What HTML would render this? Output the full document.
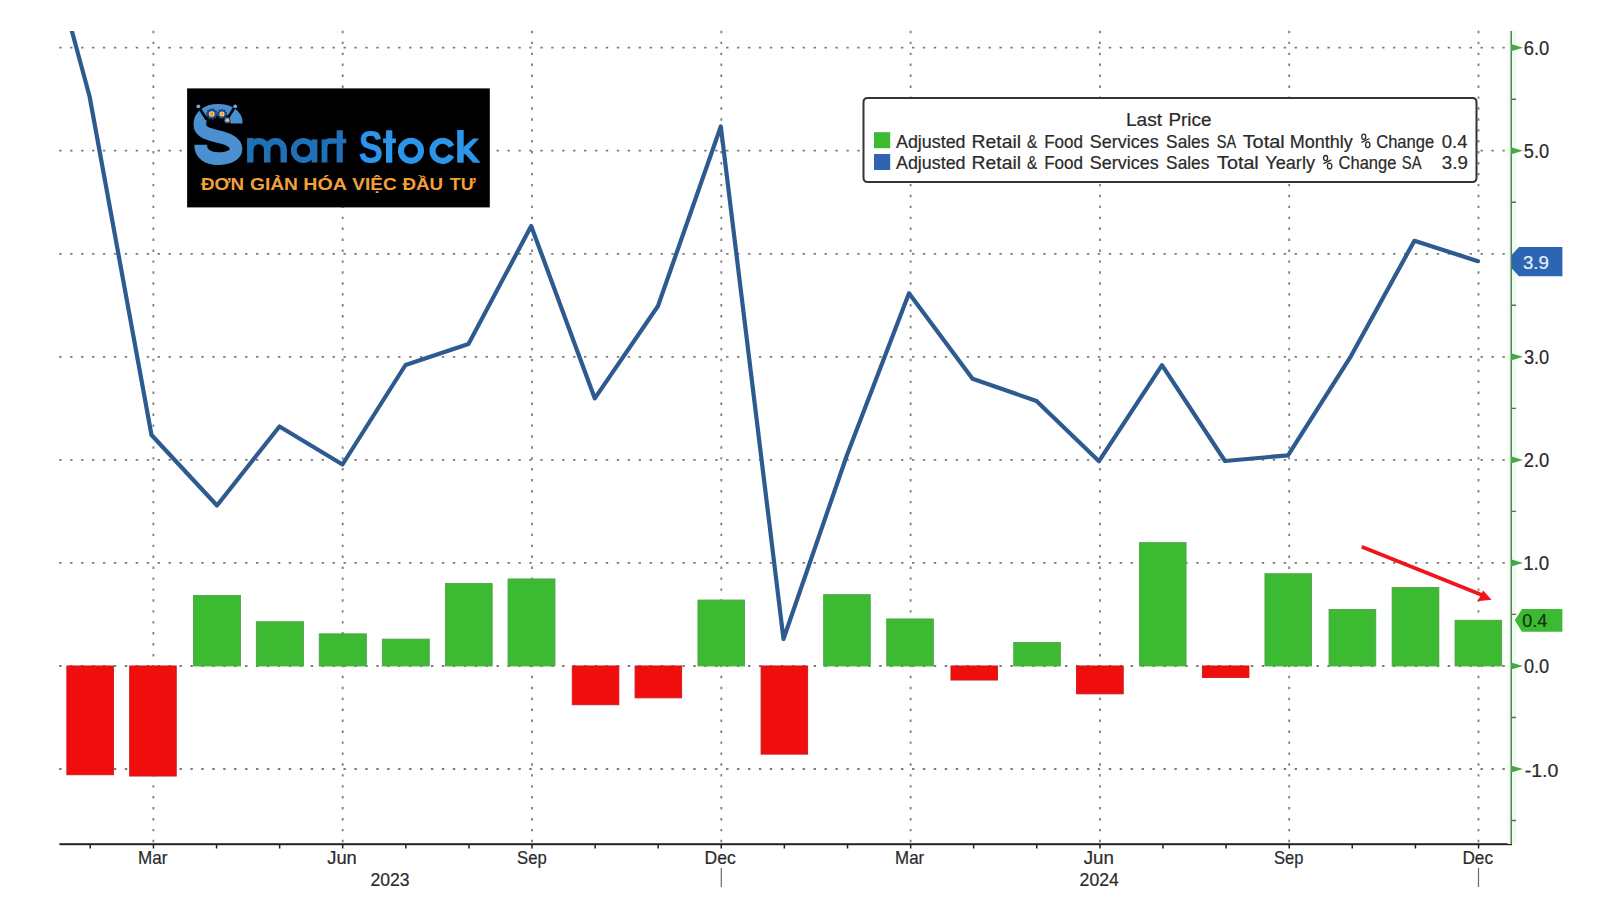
<!DOCTYPE html><html><head><meta charset="utf-8"><style>html,body{margin:0;padding:0;background:#fff;overflow:hidden}svg{display:block}text{font-family:"Liberation Sans",sans-serif;stroke-width:0.2px}</style></head><body>
<svg width="1600" height="909" viewBox="0 0 1600 909">
<rect width="1600" height="909" fill="#fff"/>
<path fill="#7c7c7c" d="M59.2 46.8h2.4v1.8h-2.4zM70.1 46.8h2.4v1.8h-2.4zM81.1 46.8h2.4v1.8h-2.4zM92.0 46.8h2.4v1.8h-2.4zM102.9 46.8h2.4v1.8h-2.4zM113.9 46.8h2.4v1.8h-2.4zM124.8 46.8h2.4v1.8h-2.4zM135.7 46.8h2.4v1.8h-2.4zM146.7 46.8h2.4v1.8h-2.4zM157.6 46.8h2.4v1.8h-2.4zM168.5 46.8h2.4v1.8h-2.4zM179.5 46.8h2.4v1.8h-2.4zM190.4 46.8h2.4v1.8h-2.4zM201.3 46.8h2.4v1.8h-2.4zM212.3 46.8h2.4v1.8h-2.4zM223.2 46.8h2.4v1.8h-2.4zM234.1 46.8h2.4v1.8h-2.4zM245.1 46.8h2.4v1.8h-2.4zM256.0 46.8h2.4v1.8h-2.4zM266.9 46.8h2.4v1.8h-2.4zM277.9 46.8h2.4v1.8h-2.4zM288.8 46.8h2.4v1.8h-2.4zM299.7 46.8h2.4v1.8h-2.4zM310.7 46.8h2.4v1.8h-2.4zM321.6 46.8h2.4v1.8h-2.4zM332.5 46.8h2.4v1.8h-2.4zM343.5 46.8h2.4v1.8h-2.4zM354.4 46.8h2.4v1.8h-2.4zM365.3 46.8h2.4v1.8h-2.4zM376.3 46.8h2.4v1.8h-2.4zM387.2 46.8h2.4v1.8h-2.4zM398.1 46.8h2.4v1.8h-2.4zM409.1 46.8h2.4v1.8h-2.4zM420.0 46.8h2.4v1.8h-2.4zM430.9 46.8h2.4v1.8h-2.4zM441.9 46.8h2.4v1.8h-2.4zM452.8 46.8h2.4v1.8h-2.4zM463.7 46.8h2.4v1.8h-2.4zM474.7 46.8h2.4v1.8h-2.4zM485.6 46.8h2.4v1.8h-2.4zM496.5 46.8h2.4v1.8h-2.4zM507.5 46.8h2.4v1.8h-2.4zM518.4 46.8h2.4v1.8h-2.4zM529.3 46.8h2.4v1.8h-2.4zM540.3 46.8h2.4v1.8h-2.4zM551.2 46.8h2.4v1.8h-2.4zM562.1 46.8h2.4v1.8h-2.4zM573.1 46.8h2.4v1.8h-2.4zM584.0 46.8h2.4v1.8h-2.4zM594.9 46.8h2.4v1.8h-2.4zM605.8 46.8h2.4v1.8h-2.4zM616.8 46.8h2.4v1.8h-2.4zM627.7 46.8h2.4v1.8h-2.4zM638.6 46.8h2.4v1.8h-2.4zM649.6 46.8h2.4v1.8h-2.4zM660.5 46.8h2.4v1.8h-2.4zM671.4 46.8h2.4v1.8h-2.4zM682.4 46.8h2.4v1.8h-2.4zM693.3 46.8h2.4v1.8h-2.4zM704.2 46.8h2.4v1.8h-2.4zM715.2 46.8h2.4v1.8h-2.4zM726.1 46.8h2.4v1.8h-2.4zM737.0 46.8h2.4v1.8h-2.4zM748.0 46.8h2.4v1.8h-2.4zM758.9 46.8h2.4v1.8h-2.4zM769.8 46.8h2.4v1.8h-2.4zM780.8 46.8h2.4v1.8h-2.4zM791.7 46.8h2.4v1.8h-2.4zM802.6 46.8h2.4v1.8h-2.4zM813.6 46.8h2.4v1.8h-2.4zM824.5 46.8h2.4v1.8h-2.4zM835.4 46.8h2.4v1.8h-2.4zM846.4 46.8h2.4v1.8h-2.4zM857.3 46.8h2.4v1.8h-2.4zM868.2 46.8h2.4v1.8h-2.4zM879.2 46.8h2.4v1.8h-2.4zM890.1 46.8h2.4v1.8h-2.4zM901.0 46.8h2.4v1.8h-2.4zM912.0 46.8h2.4v1.8h-2.4zM922.9 46.8h2.4v1.8h-2.4zM933.8 46.8h2.4v1.8h-2.4zM944.8 46.8h2.4v1.8h-2.4zM955.7 46.8h2.4v1.8h-2.4zM966.6 46.8h2.4v1.8h-2.4zM977.6 46.8h2.4v1.8h-2.4zM988.5 46.8h2.4v1.8h-2.4zM999.4 46.8h2.4v1.8h-2.4zM1010.4 46.8h2.4v1.8h-2.4zM1021.3 46.8h2.4v1.8h-2.4zM1032.2 46.8h2.4v1.8h-2.4zM1043.2 46.8h2.4v1.8h-2.4zM1054.1 46.8h2.4v1.8h-2.4zM1065.0 46.8h2.4v1.8h-2.4zM1076.0 46.8h2.4v1.8h-2.4zM1086.9 46.8h2.4v1.8h-2.4zM1097.8 46.8h2.4v1.8h-2.4zM1108.8 46.8h2.4v1.8h-2.4zM1119.7 46.8h2.4v1.8h-2.4zM1130.6 46.8h2.4v1.8h-2.4zM1141.6 46.8h2.4v1.8h-2.4zM1152.5 46.8h2.4v1.8h-2.4zM1163.4 46.8h2.4v1.8h-2.4zM1174.4 46.8h2.4v1.8h-2.4zM1185.3 46.8h2.4v1.8h-2.4zM1196.2 46.8h2.4v1.8h-2.4zM1207.2 46.8h2.4v1.8h-2.4zM1218.1 46.8h2.4v1.8h-2.4zM1229.0 46.8h2.4v1.8h-2.4zM1240.0 46.8h2.4v1.8h-2.4zM1250.9 46.8h2.4v1.8h-2.4zM1261.8 46.8h2.4v1.8h-2.4zM1272.8 46.8h2.4v1.8h-2.4zM1283.7 46.8h2.4v1.8h-2.4zM1294.6 46.8h2.4v1.8h-2.4zM1305.6 46.8h2.4v1.8h-2.4zM1316.5 46.8h2.4v1.8h-2.4zM1327.4 46.8h2.4v1.8h-2.4zM1338.4 46.8h2.4v1.8h-2.4zM1349.3 46.8h2.4v1.8h-2.4zM1360.2 46.8h2.4v1.8h-2.4zM1371.2 46.8h2.4v1.8h-2.4zM1382.1 46.8h2.4v1.8h-2.4zM1393.0 46.8h2.4v1.8h-2.4zM1404.0 46.8h2.4v1.8h-2.4zM1414.9 46.8h2.4v1.8h-2.4zM1425.8 46.8h2.4v1.8h-2.4zM1436.8 46.8h2.4v1.8h-2.4zM1447.7 46.8h2.4v1.8h-2.4zM1458.6 46.8h2.4v1.8h-2.4zM1469.6 46.8h2.4v1.8h-2.4zM1480.5 46.8h2.4v1.8h-2.4zM1491.4 46.8h2.4v1.8h-2.4zM1502.4 46.8h2.4v1.8h-2.4zM59.2 149.8h2.4v1.8h-2.4zM70.1 149.8h2.4v1.8h-2.4zM81.1 149.8h2.4v1.8h-2.4zM92.0 149.8h2.4v1.8h-2.4zM102.9 149.8h2.4v1.8h-2.4zM113.9 149.8h2.4v1.8h-2.4zM124.8 149.8h2.4v1.8h-2.4zM135.7 149.8h2.4v1.8h-2.4zM146.7 149.8h2.4v1.8h-2.4zM157.6 149.8h2.4v1.8h-2.4zM168.5 149.8h2.4v1.8h-2.4zM179.5 149.8h2.4v1.8h-2.4zM190.4 149.8h2.4v1.8h-2.4zM201.3 149.8h2.4v1.8h-2.4zM212.3 149.8h2.4v1.8h-2.4zM223.2 149.8h2.4v1.8h-2.4zM234.1 149.8h2.4v1.8h-2.4zM245.1 149.8h2.4v1.8h-2.4zM256.0 149.8h2.4v1.8h-2.4zM266.9 149.8h2.4v1.8h-2.4zM277.9 149.8h2.4v1.8h-2.4zM288.8 149.8h2.4v1.8h-2.4zM299.7 149.8h2.4v1.8h-2.4zM310.7 149.8h2.4v1.8h-2.4zM321.6 149.8h2.4v1.8h-2.4zM332.5 149.8h2.4v1.8h-2.4zM343.5 149.8h2.4v1.8h-2.4zM354.4 149.8h2.4v1.8h-2.4zM365.3 149.8h2.4v1.8h-2.4zM376.3 149.8h2.4v1.8h-2.4zM387.2 149.8h2.4v1.8h-2.4zM398.1 149.8h2.4v1.8h-2.4zM409.1 149.8h2.4v1.8h-2.4zM420.0 149.8h2.4v1.8h-2.4zM430.9 149.8h2.4v1.8h-2.4zM441.9 149.8h2.4v1.8h-2.4zM452.8 149.8h2.4v1.8h-2.4zM463.7 149.8h2.4v1.8h-2.4zM474.7 149.8h2.4v1.8h-2.4zM485.6 149.8h2.4v1.8h-2.4zM496.5 149.8h2.4v1.8h-2.4zM507.5 149.8h2.4v1.8h-2.4zM518.4 149.8h2.4v1.8h-2.4zM529.3 149.8h2.4v1.8h-2.4zM540.3 149.8h2.4v1.8h-2.4zM551.2 149.8h2.4v1.8h-2.4zM562.1 149.8h2.4v1.8h-2.4zM573.1 149.8h2.4v1.8h-2.4zM584.0 149.8h2.4v1.8h-2.4zM594.9 149.8h2.4v1.8h-2.4zM605.8 149.8h2.4v1.8h-2.4zM616.8 149.8h2.4v1.8h-2.4zM627.7 149.8h2.4v1.8h-2.4zM638.6 149.8h2.4v1.8h-2.4zM649.6 149.8h2.4v1.8h-2.4zM660.5 149.8h2.4v1.8h-2.4zM671.4 149.8h2.4v1.8h-2.4zM682.4 149.8h2.4v1.8h-2.4zM693.3 149.8h2.4v1.8h-2.4zM704.2 149.8h2.4v1.8h-2.4zM715.2 149.8h2.4v1.8h-2.4zM726.1 149.8h2.4v1.8h-2.4zM737.0 149.8h2.4v1.8h-2.4zM748.0 149.8h2.4v1.8h-2.4zM758.9 149.8h2.4v1.8h-2.4zM769.8 149.8h2.4v1.8h-2.4zM780.8 149.8h2.4v1.8h-2.4zM791.7 149.8h2.4v1.8h-2.4zM802.6 149.8h2.4v1.8h-2.4zM813.6 149.8h2.4v1.8h-2.4zM824.5 149.8h2.4v1.8h-2.4zM835.4 149.8h2.4v1.8h-2.4zM846.4 149.8h2.4v1.8h-2.4zM857.3 149.8h2.4v1.8h-2.4zM868.2 149.8h2.4v1.8h-2.4zM879.2 149.8h2.4v1.8h-2.4zM890.1 149.8h2.4v1.8h-2.4zM901.0 149.8h2.4v1.8h-2.4zM912.0 149.8h2.4v1.8h-2.4zM922.9 149.8h2.4v1.8h-2.4zM933.8 149.8h2.4v1.8h-2.4zM944.8 149.8h2.4v1.8h-2.4zM955.7 149.8h2.4v1.8h-2.4zM966.6 149.8h2.4v1.8h-2.4zM977.6 149.8h2.4v1.8h-2.4zM988.5 149.8h2.4v1.8h-2.4zM999.4 149.8h2.4v1.8h-2.4zM1010.4 149.8h2.4v1.8h-2.4zM1021.3 149.8h2.4v1.8h-2.4zM1032.2 149.8h2.4v1.8h-2.4zM1043.2 149.8h2.4v1.8h-2.4zM1054.1 149.8h2.4v1.8h-2.4zM1065.0 149.8h2.4v1.8h-2.4zM1076.0 149.8h2.4v1.8h-2.4zM1086.9 149.8h2.4v1.8h-2.4zM1097.8 149.8h2.4v1.8h-2.4zM1108.8 149.8h2.4v1.8h-2.4zM1119.7 149.8h2.4v1.8h-2.4zM1130.6 149.8h2.4v1.8h-2.4zM1141.6 149.8h2.4v1.8h-2.4zM1152.5 149.8h2.4v1.8h-2.4zM1163.4 149.8h2.4v1.8h-2.4zM1174.4 149.8h2.4v1.8h-2.4zM1185.3 149.8h2.4v1.8h-2.4zM1196.2 149.8h2.4v1.8h-2.4zM1207.2 149.8h2.4v1.8h-2.4zM1218.1 149.8h2.4v1.8h-2.4zM1229.0 149.8h2.4v1.8h-2.4zM1240.0 149.8h2.4v1.8h-2.4zM1250.9 149.8h2.4v1.8h-2.4zM1261.8 149.8h2.4v1.8h-2.4zM1272.8 149.8h2.4v1.8h-2.4zM1283.7 149.8h2.4v1.8h-2.4zM1294.6 149.8h2.4v1.8h-2.4zM1305.6 149.8h2.4v1.8h-2.4zM1316.5 149.8h2.4v1.8h-2.4zM1327.4 149.8h2.4v1.8h-2.4zM1338.4 149.8h2.4v1.8h-2.4zM1349.3 149.8h2.4v1.8h-2.4zM1360.2 149.8h2.4v1.8h-2.4zM1371.2 149.8h2.4v1.8h-2.4zM1382.1 149.8h2.4v1.8h-2.4zM1393.0 149.8h2.4v1.8h-2.4zM1404.0 149.8h2.4v1.8h-2.4zM1414.9 149.8h2.4v1.8h-2.4zM1425.8 149.8h2.4v1.8h-2.4zM1436.8 149.8h2.4v1.8h-2.4zM1447.7 149.8h2.4v1.8h-2.4zM1458.6 149.8h2.4v1.8h-2.4zM1469.6 149.8h2.4v1.8h-2.4zM1480.5 149.8h2.4v1.8h-2.4zM1491.4 149.8h2.4v1.8h-2.4zM1502.4 149.8h2.4v1.8h-2.4zM59.2 252.9h2.4v1.8h-2.4zM70.1 252.9h2.4v1.8h-2.4zM81.1 252.9h2.4v1.8h-2.4zM92.0 252.9h2.4v1.8h-2.4zM102.9 252.9h2.4v1.8h-2.4zM113.9 252.9h2.4v1.8h-2.4zM124.8 252.9h2.4v1.8h-2.4zM135.7 252.9h2.4v1.8h-2.4zM146.7 252.9h2.4v1.8h-2.4zM157.6 252.9h2.4v1.8h-2.4zM168.5 252.9h2.4v1.8h-2.4zM179.5 252.9h2.4v1.8h-2.4zM190.4 252.9h2.4v1.8h-2.4zM201.3 252.9h2.4v1.8h-2.4zM212.3 252.9h2.4v1.8h-2.4zM223.2 252.9h2.4v1.8h-2.4zM234.1 252.9h2.4v1.8h-2.4zM245.1 252.9h2.4v1.8h-2.4zM256.0 252.9h2.4v1.8h-2.4zM266.9 252.9h2.4v1.8h-2.4zM277.9 252.9h2.4v1.8h-2.4zM288.8 252.9h2.4v1.8h-2.4zM299.7 252.9h2.4v1.8h-2.4zM310.7 252.9h2.4v1.8h-2.4zM321.6 252.9h2.4v1.8h-2.4zM332.5 252.9h2.4v1.8h-2.4zM343.5 252.9h2.4v1.8h-2.4zM354.4 252.9h2.4v1.8h-2.4zM365.3 252.9h2.4v1.8h-2.4zM376.3 252.9h2.4v1.8h-2.4zM387.2 252.9h2.4v1.8h-2.4zM398.1 252.9h2.4v1.8h-2.4zM409.1 252.9h2.4v1.8h-2.4zM420.0 252.9h2.4v1.8h-2.4zM430.9 252.9h2.4v1.8h-2.4zM441.9 252.9h2.4v1.8h-2.4zM452.8 252.9h2.4v1.8h-2.4zM463.7 252.9h2.4v1.8h-2.4zM474.7 252.9h2.4v1.8h-2.4zM485.6 252.9h2.4v1.8h-2.4zM496.5 252.9h2.4v1.8h-2.4zM507.5 252.9h2.4v1.8h-2.4zM518.4 252.9h2.4v1.8h-2.4zM529.3 252.9h2.4v1.8h-2.4zM540.3 252.9h2.4v1.8h-2.4zM551.2 252.9h2.4v1.8h-2.4zM562.1 252.9h2.4v1.8h-2.4zM573.1 252.9h2.4v1.8h-2.4zM584.0 252.9h2.4v1.8h-2.4zM594.9 252.9h2.4v1.8h-2.4zM605.8 252.9h2.4v1.8h-2.4zM616.8 252.9h2.4v1.8h-2.4zM627.7 252.9h2.4v1.8h-2.4zM638.6 252.9h2.4v1.8h-2.4zM649.6 252.9h2.4v1.8h-2.4zM660.5 252.9h2.4v1.8h-2.4zM671.4 252.9h2.4v1.8h-2.4zM682.4 252.9h2.4v1.8h-2.4zM693.3 252.9h2.4v1.8h-2.4zM704.2 252.9h2.4v1.8h-2.4zM715.2 252.9h2.4v1.8h-2.4zM726.1 252.9h2.4v1.8h-2.4zM737.0 252.9h2.4v1.8h-2.4zM748.0 252.9h2.4v1.8h-2.4zM758.9 252.9h2.4v1.8h-2.4zM769.8 252.9h2.4v1.8h-2.4zM780.8 252.9h2.4v1.8h-2.4zM791.7 252.9h2.4v1.8h-2.4zM802.6 252.9h2.4v1.8h-2.4zM813.6 252.9h2.4v1.8h-2.4zM824.5 252.9h2.4v1.8h-2.4zM835.4 252.9h2.4v1.8h-2.4zM846.4 252.9h2.4v1.8h-2.4zM857.3 252.9h2.4v1.8h-2.4zM868.2 252.9h2.4v1.8h-2.4zM879.2 252.9h2.4v1.8h-2.4zM890.1 252.9h2.4v1.8h-2.4zM901.0 252.9h2.4v1.8h-2.4zM912.0 252.9h2.4v1.8h-2.4zM922.9 252.9h2.4v1.8h-2.4zM933.8 252.9h2.4v1.8h-2.4zM944.8 252.9h2.4v1.8h-2.4zM955.7 252.9h2.4v1.8h-2.4zM966.6 252.9h2.4v1.8h-2.4zM977.6 252.9h2.4v1.8h-2.4zM988.5 252.9h2.4v1.8h-2.4zM999.4 252.9h2.4v1.8h-2.4zM1010.4 252.9h2.4v1.8h-2.4zM1021.3 252.9h2.4v1.8h-2.4zM1032.2 252.9h2.4v1.8h-2.4zM1043.2 252.9h2.4v1.8h-2.4zM1054.1 252.9h2.4v1.8h-2.4zM1065.0 252.9h2.4v1.8h-2.4zM1076.0 252.9h2.4v1.8h-2.4zM1086.9 252.9h2.4v1.8h-2.4zM1097.8 252.9h2.4v1.8h-2.4zM1108.8 252.9h2.4v1.8h-2.4zM1119.7 252.9h2.4v1.8h-2.4zM1130.6 252.9h2.4v1.8h-2.4zM1141.6 252.9h2.4v1.8h-2.4zM1152.5 252.9h2.4v1.8h-2.4zM1163.4 252.9h2.4v1.8h-2.4zM1174.4 252.9h2.4v1.8h-2.4zM1185.3 252.9h2.4v1.8h-2.4zM1196.2 252.9h2.4v1.8h-2.4zM1207.2 252.9h2.4v1.8h-2.4zM1218.1 252.9h2.4v1.8h-2.4zM1229.0 252.9h2.4v1.8h-2.4zM1240.0 252.9h2.4v1.8h-2.4zM1250.9 252.9h2.4v1.8h-2.4zM1261.8 252.9h2.4v1.8h-2.4zM1272.8 252.9h2.4v1.8h-2.4zM1283.7 252.9h2.4v1.8h-2.4zM1294.6 252.9h2.4v1.8h-2.4zM1305.6 252.9h2.4v1.8h-2.4zM1316.5 252.9h2.4v1.8h-2.4zM1327.4 252.9h2.4v1.8h-2.4zM1338.4 252.9h2.4v1.8h-2.4zM1349.3 252.9h2.4v1.8h-2.4zM1360.2 252.9h2.4v1.8h-2.4zM1371.2 252.9h2.4v1.8h-2.4zM1382.1 252.9h2.4v1.8h-2.4zM1393.0 252.9h2.4v1.8h-2.4zM1404.0 252.9h2.4v1.8h-2.4zM1414.9 252.9h2.4v1.8h-2.4zM1425.8 252.9h2.4v1.8h-2.4zM1436.8 252.9h2.4v1.8h-2.4zM1447.7 252.9h2.4v1.8h-2.4zM1458.6 252.9h2.4v1.8h-2.4zM1469.6 252.9h2.4v1.8h-2.4zM1480.5 252.9h2.4v1.8h-2.4zM1491.4 252.9h2.4v1.8h-2.4zM1502.4 252.9h2.4v1.8h-2.4zM59.2 355.9h2.4v1.8h-2.4zM70.1 355.9h2.4v1.8h-2.4zM81.1 355.9h2.4v1.8h-2.4zM92.0 355.9h2.4v1.8h-2.4zM102.9 355.9h2.4v1.8h-2.4zM113.9 355.9h2.4v1.8h-2.4zM124.8 355.9h2.4v1.8h-2.4zM135.7 355.9h2.4v1.8h-2.4zM146.7 355.9h2.4v1.8h-2.4zM157.6 355.9h2.4v1.8h-2.4zM168.5 355.9h2.4v1.8h-2.4zM179.5 355.9h2.4v1.8h-2.4zM190.4 355.9h2.4v1.8h-2.4zM201.3 355.9h2.4v1.8h-2.4zM212.3 355.9h2.4v1.8h-2.4zM223.2 355.9h2.4v1.8h-2.4zM234.1 355.9h2.4v1.8h-2.4zM245.1 355.9h2.4v1.8h-2.4zM256.0 355.9h2.4v1.8h-2.4zM266.9 355.9h2.4v1.8h-2.4zM277.9 355.9h2.4v1.8h-2.4zM288.8 355.9h2.4v1.8h-2.4zM299.7 355.9h2.4v1.8h-2.4zM310.7 355.9h2.4v1.8h-2.4zM321.6 355.9h2.4v1.8h-2.4zM332.5 355.9h2.4v1.8h-2.4zM343.5 355.9h2.4v1.8h-2.4zM354.4 355.9h2.4v1.8h-2.4zM365.3 355.9h2.4v1.8h-2.4zM376.3 355.9h2.4v1.8h-2.4zM387.2 355.9h2.4v1.8h-2.4zM398.1 355.9h2.4v1.8h-2.4zM409.1 355.9h2.4v1.8h-2.4zM420.0 355.9h2.4v1.8h-2.4zM430.9 355.9h2.4v1.8h-2.4zM441.9 355.9h2.4v1.8h-2.4zM452.8 355.9h2.4v1.8h-2.4zM463.7 355.9h2.4v1.8h-2.4zM474.7 355.9h2.4v1.8h-2.4zM485.6 355.9h2.4v1.8h-2.4zM496.5 355.9h2.4v1.8h-2.4zM507.5 355.9h2.4v1.8h-2.4zM518.4 355.9h2.4v1.8h-2.4zM529.3 355.9h2.4v1.8h-2.4zM540.3 355.9h2.4v1.8h-2.4zM551.2 355.9h2.4v1.8h-2.4zM562.1 355.9h2.4v1.8h-2.4zM573.1 355.9h2.4v1.8h-2.4zM584.0 355.9h2.4v1.8h-2.4zM594.9 355.9h2.4v1.8h-2.4zM605.8 355.9h2.4v1.8h-2.4zM616.8 355.9h2.4v1.8h-2.4zM627.7 355.9h2.4v1.8h-2.4zM638.6 355.9h2.4v1.8h-2.4zM649.6 355.9h2.4v1.8h-2.4zM660.5 355.9h2.4v1.8h-2.4zM671.4 355.9h2.4v1.8h-2.4zM682.4 355.9h2.4v1.8h-2.4zM693.3 355.9h2.4v1.8h-2.4zM704.2 355.9h2.4v1.8h-2.4zM715.2 355.9h2.4v1.8h-2.4zM726.1 355.9h2.4v1.8h-2.4zM737.0 355.9h2.4v1.8h-2.4zM748.0 355.9h2.4v1.8h-2.4zM758.9 355.9h2.4v1.8h-2.4zM769.8 355.9h2.4v1.8h-2.4zM780.8 355.9h2.4v1.8h-2.4zM791.7 355.9h2.4v1.8h-2.4zM802.6 355.9h2.4v1.8h-2.4zM813.6 355.9h2.4v1.8h-2.4zM824.5 355.9h2.4v1.8h-2.4zM835.4 355.9h2.4v1.8h-2.4zM846.4 355.9h2.4v1.8h-2.4zM857.3 355.9h2.4v1.8h-2.4zM868.2 355.9h2.4v1.8h-2.4zM879.2 355.9h2.4v1.8h-2.4zM890.1 355.9h2.4v1.8h-2.4zM901.0 355.9h2.4v1.8h-2.4zM912.0 355.9h2.4v1.8h-2.4zM922.9 355.9h2.4v1.8h-2.4zM933.8 355.9h2.4v1.8h-2.4zM944.8 355.9h2.4v1.8h-2.4zM955.7 355.9h2.4v1.8h-2.4zM966.6 355.9h2.4v1.8h-2.4zM977.6 355.9h2.4v1.8h-2.4zM988.5 355.9h2.4v1.8h-2.4zM999.4 355.9h2.4v1.8h-2.4zM1010.4 355.9h2.4v1.8h-2.4zM1021.3 355.9h2.4v1.8h-2.4zM1032.2 355.9h2.4v1.8h-2.4zM1043.2 355.9h2.4v1.8h-2.4zM1054.1 355.9h2.4v1.8h-2.4zM1065.0 355.9h2.4v1.8h-2.4zM1076.0 355.9h2.4v1.8h-2.4zM1086.9 355.9h2.4v1.8h-2.4zM1097.8 355.9h2.4v1.8h-2.4zM1108.8 355.9h2.4v1.8h-2.4zM1119.7 355.9h2.4v1.8h-2.4zM1130.6 355.9h2.4v1.8h-2.4zM1141.6 355.9h2.4v1.8h-2.4zM1152.5 355.9h2.4v1.8h-2.4zM1163.4 355.9h2.4v1.8h-2.4zM1174.4 355.9h2.4v1.8h-2.4zM1185.3 355.9h2.4v1.8h-2.4zM1196.2 355.9h2.4v1.8h-2.4zM1207.2 355.9h2.4v1.8h-2.4zM1218.1 355.9h2.4v1.8h-2.4zM1229.0 355.9h2.4v1.8h-2.4zM1240.0 355.9h2.4v1.8h-2.4zM1250.9 355.9h2.4v1.8h-2.4zM1261.8 355.9h2.4v1.8h-2.4zM1272.8 355.9h2.4v1.8h-2.4zM1283.7 355.9h2.4v1.8h-2.4zM1294.6 355.9h2.4v1.8h-2.4zM1305.6 355.9h2.4v1.8h-2.4zM1316.5 355.9h2.4v1.8h-2.4zM1327.4 355.9h2.4v1.8h-2.4zM1338.4 355.9h2.4v1.8h-2.4zM1349.3 355.9h2.4v1.8h-2.4zM1360.2 355.9h2.4v1.8h-2.4zM1371.2 355.9h2.4v1.8h-2.4zM1382.1 355.9h2.4v1.8h-2.4zM1393.0 355.9h2.4v1.8h-2.4zM1404.0 355.9h2.4v1.8h-2.4zM1414.9 355.9h2.4v1.8h-2.4zM1425.8 355.9h2.4v1.8h-2.4zM1436.8 355.9h2.4v1.8h-2.4zM1447.7 355.9h2.4v1.8h-2.4zM1458.6 355.9h2.4v1.8h-2.4zM1469.6 355.9h2.4v1.8h-2.4zM1480.5 355.9h2.4v1.8h-2.4zM1491.4 355.9h2.4v1.8h-2.4zM1502.4 355.9h2.4v1.8h-2.4zM59.2 459.0h2.4v1.8h-2.4zM70.1 459.0h2.4v1.8h-2.4zM81.1 459.0h2.4v1.8h-2.4zM92.0 459.0h2.4v1.8h-2.4zM102.9 459.0h2.4v1.8h-2.4zM113.9 459.0h2.4v1.8h-2.4zM124.8 459.0h2.4v1.8h-2.4zM135.7 459.0h2.4v1.8h-2.4zM146.7 459.0h2.4v1.8h-2.4zM157.6 459.0h2.4v1.8h-2.4zM168.5 459.0h2.4v1.8h-2.4zM179.5 459.0h2.4v1.8h-2.4zM190.4 459.0h2.4v1.8h-2.4zM201.3 459.0h2.4v1.8h-2.4zM212.3 459.0h2.4v1.8h-2.4zM223.2 459.0h2.4v1.8h-2.4zM234.1 459.0h2.4v1.8h-2.4zM245.1 459.0h2.4v1.8h-2.4zM256.0 459.0h2.4v1.8h-2.4zM266.9 459.0h2.4v1.8h-2.4zM277.9 459.0h2.4v1.8h-2.4zM288.8 459.0h2.4v1.8h-2.4zM299.7 459.0h2.4v1.8h-2.4zM310.7 459.0h2.4v1.8h-2.4zM321.6 459.0h2.4v1.8h-2.4zM332.5 459.0h2.4v1.8h-2.4zM343.5 459.0h2.4v1.8h-2.4zM354.4 459.0h2.4v1.8h-2.4zM365.3 459.0h2.4v1.8h-2.4zM376.3 459.0h2.4v1.8h-2.4zM387.2 459.0h2.4v1.8h-2.4zM398.1 459.0h2.4v1.8h-2.4zM409.1 459.0h2.4v1.8h-2.4zM420.0 459.0h2.4v1.8h-2.4zM430.9 459.0h2.4v1.8h-2.4zM441.9 459.0h2.4v1.8h-2.4zM452.8 459.0h2.4v1.8h-2.4zM463.7 459.0h2.4v1.8h-2.4zM474.7 459.0h2.4v1.8h-2.4zM485.6 459.0h2.4v1.8h-2.4zM496.5 459.0h2.4v1.8h-2.4zM507.5 459.0h2.4v1.8h-2.4zM518.4 459.0h2.4v1.8h-2.4zM529.3 459.0h2.4v1.8h-2.4zM540.3 459.0h2.4v1.8h-2.4zM551.2 459.0h2.4v1.8h-2.4zM562.1 459.0h2.4v1.8h-2.4zM573.1 459.0h2.4v1.8h-2.4zM584.0 459.0h2.4v1.8h-2.4zM594.9 459.0h2.4v1.8h-2.4zM605.8 459.0h2.4v1.8h-2.4zM616.8 459.0h2.4v1.8h-2.4zM627.7 459.0h2.4v1.8h-2.4zM638.6 459.0h2.4v1.8h-2.4zM649.6 459.0h2.4v1.8h-2.4zM660.5 459.0h2.4v1.8h-2.4zM671.4 459.0h2.4v1.8h-2.4zM682.4 459.0h2.4v1.8h-2.4zM693.3 459.0h2.4v1.8h-2.4zM704.2 459.0h2.4v1.8h-2.4zM715.2 459.0h2.4v1.8h-2.4zM726.1 459.0h2.4v1.8h-2.4zM737.0 459.0h2.4v1.8h-2.4zM748.0 459.0h2.4v1.8h-2.4zM758.9 459.0h2.4v1.8h-2.4zM769.8 459.0h2.4v1.8h-2.4zM780.8 459.0h2.4v1.8h-2.4zM791.7 459.0h2.4v1.8h-2.4zM802.6 459.0h2.4v1.8h-2.4zM813.6 459.0h2.4v1.8h-2.4zM824.5 459.0h2.4v1.8h-2.4zM835.4 459.0h2.4v1.8h-2.4zM846.4 459.0h2.4v1.8h-2.4zM857.3 459.0h2.4v1.8h-2.4zM868.2 459.0h2.4v1.8h-2.4zM879.2 459.0h2.4v1.8h-2.4zM890.1 459.0h2.4v1.8h-2.4zM901.0 459.0h2.4v1.8h-2.4zM912.0 459.0h2.4v1.8h-2.4zM922.9 459.0h2.4v1.8h-2.4zM933.8 459.0h2.4v1.8h-2.4zM944.8 459.0h2.4v1.8h-2.4zM955.7 459.0h2.4v1.8h-2.4zM966.6 459.0h2.4v1.8h-2.4zM977.6 459.0h2.4v1.8h-2.4zM988.5 459.0h2.4v1.8h-2.4zM999.4 459.0h2.4v1.8h-2.4zM1010.4 459.0h2.4v1.8h-2.4zM1021.3 459.0h2.4v1.8h-2.4zM1032.2 459.0h2.4v1.8h-2.4zM1043.2 459.0h2.4v1.8h-2.4zM1054.1 459.0h2.4v1.8h-2.4zM1065.0 459.0h2.4v1.8h-2.4zM1076.0 459.0h2.4v1.8h-2.4zM1086.9 459.0h2.4v1.8h-2.4zM1097.8 459.0h2.4v1.8h-2.4zM1108.8 459.0h2.4v1.8h-2.4zM1119.7 459.0h2.4v1.8h-2.4zM1130.6 459.0h2.4v1.8h-2.4zM1141.6 459.0h2.4v1.8h-2.4zM1152.5 459.0h2.4v1.8h-2.4zM1163.4 459.0h2.4v1.8h-2.4zM1174.4 459.0h2.4v1.8h-2.4zM1185.3 459.0h2.4v1.8h-2.4zM1196.2 459.0h2.4v1.8h-2.4zM1207.2 459.0h2.4v1.8h-2.4zM1218.1 459.0h2.4v1.8h-2.4zM1229.0 459.0h2.4v1.8h-2.4zM1240.0 459.0h2.4v1.8h-2.4zM1250.9 459.0h2.4v1.8h-2.4zM1261.8 459.0h2.4v1.8h-2.4zM1272.8 459.0h2.4v1.8h-2.4zM1283.7 459.0h2.4v1.8h-2.4zM1294.6 459.0h2.4v1.8h-2.4zM1305.6 459.0h2.4v1.8h-2.4zM1316.5 459.0h2.4v1.8h-2.4zM1327.4 459.0h2.4v1.8h-2.4zM1338.4 459.0h2.4v1.8h-2.4zM1349.3 459.0h2.4v1.8h-2.4zM1360.2 459.0h2.4v1.8h-2.4zM1371.2 459.0h2.4v1.8h-2.4zM1382.1 459.0h2.4v1.8h-2.4zM1393.0 459.0h2.4v1.8h-2.4zM1404.0 459.0h2.4v1.8h-2.4zM1414.9 459.0h2.4v1.8h-2.4zM1425.8 459.0h2.4v1.8h-2.4zM1436.8 459.0h2.4v1.8h-2.4zM1447.7 459.0h2.4v1.8h-2.4zM1458.6 459.0h2.4v1.8h-2.4zM1469.6 459.0h2.4v1.8h-2.4zM1480.5 459.0h2.4v1.8h-2.4zM1491.4 459.0h2.4v1.8h-2.4zM1502.4 459.0h2.4v1.8h-2.4zM59.2 562.0h2.4v1.8h-2.4zM70.1 562.0h2.4v1.8h-2.4zM81.1 562.0h2.4v1.8h-2.4zM92.0 562.0h2.4v1.8h-2.4zM102.9 562.0h2.4v1.8h-2.4zM113.9 562.0h2.4v1.8h-2.4zM124.8 562.0h2.4v1.8h-2.4zM135.7 562.0h2.4v1.8h-2.4zM146.7 562.0h2.4v1.8h-2.4zM157.6 562.0h2.4v1.8h-2.4zM168.5 562.0h2.4v1.8h-2.4zM179.5 562.0h2.4v1.8h-2.4zM190.4 562.0h2.4v1.8h-2.4zM201.3 562.0h2.4v1.8h-2.4zM212.3 562.0h2.4v1.8h-2.4zM223.2 562.0h2.4v1.8h-2.4zM234.1 562.0h2.4v1.8h-2.4zM245.1 562.0h2.4v1.8h-2.4zM256.0 562.0h2.4v1.8h-2.4zM266.9 562.0h2.4v1.8h-2.4zM277.9 562.0h2.4v1.8h-2.4zM288.8 562.0h2.4v1.8h-2.4zM299.7 562.0h2.4v1.8h-2.4zM310.7 562.0h2.4v1.8h-2.4zM321.6 562.0h2.4v1.8h-2.4zM332.5 562.0h2.4v1.8h-2.4zM343.5 562.0h2.4v1.8h-2.4zM354.4 562.0h2.4v1.8h-2.4zM365.3 562.0h2.4v1.8h-2.4zM376.3 562.0h2.4v1.8h-2.4zM387.2 562.0h2.4v1.8h-2.4zM398.1 562.0h2.4v1.8h-2.4zM409.1 562.0h2.4v1.8h-2.4zM420.0 562.0h2.4v1.8h-2.4zM430.9 562.0h2.4v1.8h-2.4zM441.9 562.0h2.4v1.8h-2.4zM452.8 562.0h2.4v1.8h-2.4zM463.7 562.0h2.4v1.8h-2.4zM474.7 562.0h2.4v1.8h-2.4zM485.6 562.0h2.4v1.8h-2.4zM496.5 562.0h2.4v1.8h-2.4zM507.5 562.0h2.4v1.8h-2.4zM518.4 562.0h2.4v1.8h-2.4zM529.3 562.0h2.4v1.8h-2.4zM540.3 562.0h2.4v1.8h-2.4zM551.2 562.0h2.4v1.8h-2.4zM562.1 562.0h2.4v1.8h-2.4zM573.1 562.0h2.4v1.8h-2.4zM584.0 562.0h2.4v1.8h-2.4zM594.9 562.0h2.4v1.8h-2.4zM605.8 562.0h2.4v1.8h-2.4zM616.8 562.0h2.4v1.8h-2.4zM627.7 562.0h2.4v1.8h-2.4zM638.6 562.0h2.4v1.8h-2.4zM649.6 562.0h2.4v1.8h-2.4zM660.5 562.0h2.4v1.8h-2.4zM671.4 562.0h2.4v1.8h-2.4zM682.4 562.0h2.4v1.8h-2.4zM693.3 562.0h2.4v1.8h-2.4zM704.2 562.0h2.4v1.8h-2.4zM715.2 562.0h2.4v1.8h-2.4zM726.1 562.0h2.4v1.8h-2.4zM737.0 562.0h2.4v1.8h-2.4zM748.0 562.0h2.4v1.8h-2.4zM758.9 562.0h2.4v1.8h-2.4zM769.8 562.0h2.4v1.8h-2.4zM780.8 562.0h2.4v1.8h-2.4zM791.7 562.0h2.4v1.8h-2.4zM802.6 562.0h2.4v1.8h-2.4zM813.6 562.0h2.4v1.8h-2.4zM824.5 562.0h2.4v1.8h-2.4zM835.4 562.0h2.4v1.8h-2.4zM846.4 562.0h2.4v1.8h-2.4zM857.3 562.0h2.4v1.8h-2.4zM868.2 562.0h2.4v1.8h-2.4zM879.2 562.0h2.4v1.8h-2.4zM890.1 562.0h2.4v1.8h-2.4zM901.0 562.0h2.4v1.8h-2.4zM912.0 562.0h2.4v1.8h-2.4zM922.9 562.0h2.4v1.8h-2.4zM933.8 562.0h2.4v1.8h-2.4zM944.8 562.0h2.4v1.8h-2.4zM955.7 562.0h2.4v1.8h-2.4zM966.6 562.0h2.4v1.8h-2.4zM977.6 562.0h2.4v1.8h-2.4zM988.5 562.0h2.4v1.8h-2.4zM999.4 562.0h2.4v1.8h-2.4zM1010.4 562.0h2.4v1.8h-2.4zM1021.3 562.0h2.4v1.8h-2.4zM1032.2 562.0h2.4v1.8h-2.4zM1043.2 562.0h2.4v1.8h-2.4zM1054.1 562.0h2.4v1.8h-2.4zM1065.0 562.0h2.4v1.8h-2.4zM1076.0 562.0h2.4v1.8h-2.4zM1086.9 562.0h2.4v1.8h-2.4zM1097.8 562.0h2.4v1.8h-2.4zM1108.8 562.0h2.4v1.8h-2.4zM1119.7 562.0h2.4v1.8h-2.4zM1130.6 562.0h2.4v1.8h-2.4zM1141.6 562.0h2.4v1.8h-2.4zM1152.5 562.0h2.4v1.8h-2.4zM1163.4 562.0h2.4v1.8h-2.4zM1174.4 562.0h2.4v1.8h-2.4zM1185.3 562.0h2.4v1.8h-2.4zM1196.2 562.0h2.4v1.8h-2.4zM1207.2 562.0h2.4v1.8h-2.4zM1218.1 562.0h2.4v1.8h-2.4zM1229.0 562.0h2.4v1.8h-2.4zM1240.0 562.0h2.4v1.8h-2.4zM1250.9 562.0h2.4v1.8h-2.4zM1261.8 562.0h2.4v1.8h-2.4zM1272.8 562.0h2.4v1.8h-2.4zM1283.7 562.0h2.4v1.8h-2.4zM1294.6 562.0h2.4v1.8h-2.4zM1305.6 562.0h2.4v1.8h-2.4zM1316.5 562.0h2.4v1.8h-2.4zM1327.4 562.0h2.4v1.8h-2.4zM1338.4 562.0h2.4v1.8h-2.4zM1349.3 562.0h2.4v1.8h-2.4zM1360.2 562.0h2.4v1.8h-2.4zM1371.2 562.0h2.4v1.8h-2.4zM1382.1 562.0h2.4v1.8h-2.4zM1393.0 562.0h2.4v1.8h-2.4zM1404.0 562.0h2.4v1.8h-2.4zM1414.9 562.0h2.4v1.8h-2.4zM1425.8 562.0h2.4v1.8h-2.4zM1436.8 562.0h2.4v1.8h-2.4zM1447.7 562.0h2.4v1.8h-2.4zM1458.6 562.0h2.4v1.8h-2.4zM1469.6 562.0h2.4v1.8h-2.4zM1480.5 562.0h2.4v1.8h-2.4zM1491.4 562.0h2.4v1.8h-2.4zM1502.4 562.0h2.4v1.8h-2.4zM59.2 665.1h2.4v1.8h-2.4zM70.1 665.1h2.4v1.8h-2.4zM81.1 665.1h2.4v1.8h-2.4zM92.0 665.1h2.4v1.8h-2.4zM102.9 665.1h2.4v1.8h-2.4zM113.9 665.1h2.4v1.8h-2.4zM124.8 665.1h2.4v1.8h-2.4zM135.7 665.1h2.4v1.8h-2.4zM146.7 665.1h2.4v1.8h-2.4zM157.6 665.1h2.4v1.8h-2.4zM168.5 665.1h2.4v1.8h-2.4zM179.5 665.1h2.4v1.8h-2.4zM190.4 665.1h2.4v1.8h-2.4zM201.3 665.1h2.4v1.8h-2.4zM212.3 665.1h2.4v1.8h-2.4zM223.2 665.1h2.4v1.8h-2.4zM234.1 665.1h2.4v1.8h-2.4zM245.1 665.1h2.4v1.8h-2.4zM256.0 665.1h2.4v1.8h-2.4zM266.9 665.1h2.4v1.8h-2.4zM277.9 665.1h2.4v1.8h-2.4zM288.8 665.1h2.4v1.8h-2.4zM299.7 665.1h2.4v1.8h-2.4zM310.7 665.1h2.4v1.8h-2.4zM321.6 665.1h2.4v1.8h-2.4zM332.5 665.1h2.4v1.8h-2.4zM343.5 665.1h2.4v1.8h-2.4zM354.4 665.1h2.4v1.8h-2.4zM365.3 665.1h2.4v1.8h-2.4zM376.3 665.1h2.4v1.8h-2.4zM387.2 665.1h2.4v1.8h-2.4zM398.1 665.1h2.4v1.8h-2.4zM409.1 665.1h2.4v1.8h-2.4zM420.0 665.1h2.4v1.8h-2.4zM430.9 665.1h2.4v1.8h-2.4zM441.9 665.1h2.4v1.8h-2.4zM452.8 665.1h2.4v1.8h-2.4zM463.7 665.1h2.4v1.8h-2.4zM474.7 665.1h2.4v1.8h-2.4zM485.6 665.1h2.4v1.8h-2.4zM496.5 665.1h2.4v1.8h-2.4zM507.5 665.1h2.4v1.8h-2.4zM518.4 665.1h2.4v1.8h-2.4zM529.3 665.1h2.4v1.8h-2.4zM540.3 665.1h2.4v1.8h-2.4zM551.2 665.1h2.4v1.8h-2.4zM562.1 665.1h2.4v1.8h-2.4zM573.1 665.1h2.4v1.8h-2.4zM584.0 665.1h2.4v1.8h-2.4zM594.9 665.1h2.4v1.8h-2.4zM605.8 665.1h2.4v1.8h-2.4zM616.8 665.1h2.4v1.8h-2.4zM627.7 665.1h2.4v1.8h-2.4zM638.6 665.1h2.4v1.8h-2.4zM649.6 665.1h2.4v1.8h-2.4zM660.5 665.1h2.4v1.8h-2.4zM671.4 665.1h2.4v1.8h-2.4zM682.4 665.1h2.4v1.8h-2.4zM693.3 665.1h2.4v1.8h-2.4zM704.2 665.1h2.4v1.8h-2.4zM715.2 665.1h2.4v1.8h-2.4zM726.1 665.1h2.4v1.8h-2.4zM737.0 665.1h2.4v1.8h-2.4zM748.0 665.1h2.4v1.8h-2.4zM758.9 665.1h2.4v1.8h-2.4zM769.8 665.1h2.4v1.8h-2.4zM780.8 665.1h2.4v1.8h-2.4zM791.7 665.1h2.4v1.8h-2.4zM802.6 665.1h2.4v1.8h-2.4zM813.6 665.1h2.4v1.8h-2.4zM824.5 665.1h2.4v1.8h-2.4zM835.4 665.1h2.4v1.8h-2.4zM846.4 665.1h2.4v1.8h-2.4zM857.3 665.1h2.4v1.8h-2.4zM868.2 665.1h2.4v1.8h-2.4zM879.2 665.1h2.4v1.8h-2.4zM890.1 665.1h2.4v1.8h-2.4zM901.0 665.1h2.4v1.8h-2.4zM912.0 665.1h2.4v1.8h-2.4zM922.9 665.1h2.4v1.8h-2.4zM933.8 665.1h2.4v1.8h-2.4zM944.8 665.1h2.4v1.8h-2.4zM955.7 665.1h2.4v1.8h-2.4zM966.6 665.1h2.4v1.8h-2.4zM977.6 665.1h2.4v1.8h-2.4zM988.5 665.1h2.4v1.8h-2.4zM999.4 665.1h2.4v1.8h-2.4zM1010.4 665.1h2.4v1.8h-2.4zM1021.3 665.1h2.4v1.8h-2.4zM1032.2 665.1h2.4v1.8h-2.4zM1043.2 665.1h2.4v1.8h-2.4zM1054.1 665.1h2.4v1.8h-2.4zM1065.0 665.1h2.4v1.8h-2.4zM1076.0 665.1h2.4v1.8h-2.4zM1086.9 665.1h2.4v1.8h-2.4zM1097.8 665.1h2.4v1.8h-2.4zM1108.8 665.1h2.4v1.8h-2.4zM1119.7 665.1h2.4v1.8h-2.4zM1130.6 665.1h2.4v1.8h-2.4zM1141.6 665.1h2.4v1.8h-2.4zM1152.5 665.1h2.4v1.8h-2.4zM1163.4 665.1h2.4v1.8h-2.4zM1174.4 665.1h2.4v1.8h-2.4zM1185.3 665.1h2.4v1.8h-2.4zM1196.2 665.1h2.4v1.8h-2.4zM1207.2 665.1h2.4v1.8h-2.4zM1218.1 665.1h2.4v1.8h-2.4zM1229.0 665.1h2.4v1.8h-2.4zM1240.0 665.1h2.4v1.8h-2.4zM1250.9 665.1h2.4v1.8h-2.4zM1261.8 665.1h2.4v1.8h-2.4zM1272.8 665.1h2.4v1.8h-2.4zM1283.7 665.1h2.4v1.8h-2.4zM1294.6 665.1h2.4v1.8h-2.4zM1305.6 665.1h2.4v1.8h-2.4zM1316.5 665.1h2.4v1.8h-2.4zM1327.4 665.1h2.4v1.8h-2.4zM1338.4 665.1h2.4v1.8h-2.4zM1349.3 665.1h2.4v1.8h-2.4zM1360.2 665.1h2.4v1.8h-2.4zM1371.2 665.1h2.4v1.8h-2.4zM1382.1 665.1h2.4v1.8h-2.4zM1393.0 665.1h2.4v1.8h-2.4zM1404.0 665.1h2.4v1.8h-2.4zM1414.9 665.1h2.4v1.8h-2.4zM1425.8 665.1h2.4v1.8h-2.4zM1436.8 665.1h2.4v1.8h-2.4zM1447.7 665.1h2.4v1.8h-2.4zM1458.6 665.1h2.4v1.8h-2.4zM1469.6 665.1h2.4v1.8h-2.4zM1480.5 665.1h2.4v1.8h-2.4zM1491.4 665.1h2.4v1.8h-2.4zM1502.4 665.1h2.4v1.8h-2.4zM59.2 768.1h2.4v1.8h-2.4zM70.1 768.1h2.4v1.8h-2.4zM81.1 768.1h2.4v1.8h-2.4zM92.0 768.1h2.4v1.8h-2.4zM102.9 768.1h2.4v1.8h-2.4zM113.9 768.1h2.4v1.8h-2.4zM124.8 768.1h2.4v1.8h-2.4zM135.7 768.1h2.4v1.8h-2.4zM146.7 768.1h2.4v1.8h-2.4zM157.6 768.1h2.4v1.8h-2.4zM168.5 768.1h2.4v1.8h-2.4zM179.5 768.1h2.4v1.8h-2.4zM190.4 768.1h2.4v1.8h-2.4zM201.3 768.1h2.4v1.8h-2.4zM212.3 768.1h2.4v1.8h-2.4zM223.2 768.1h2.4v1.8h-2.4zM234.1 768.1h2.4v1.8h-2.4zM245.1 768.1h2.4v1.8h-2.4zM256.0 768.1h2.4v1.8h-2.4zM266.9 768.1h2.4v1.8h-2.4zM277.9 768.1h2.4v1.8h-2.4zM288.8 768.1h2.4v1.8h-2.4zM299.7 768.1h2.4v1.8h-2.4zM310.7 768.1h2.4v1.8h-2.4zM321.6 768.1h2.4v1.8h-2.4zM332.5 768.1h2.4v1.8h-2.4zM343.5 768.1h2.4v1.8h-2.4zM354.4 768.1h2.4v1.8h-2.4zM365.3 768.1h2.4v1.8h-2.4zM376.3 768.1h2.4v1.8h-2.4zM387.2 768.1h2.4v1.8h-2.4zM398.1 768.1h2.4v1.8h-2.4zM409.1 768.1h2.4v1.8h-2.4zM420.0 768.1h2.4v1.8h-2.4zM430.9 768.1h2.4v1.8h-2.4zM441.9 768.1h2.4v1.8h-2.4zM452.8 768.1h2.4v1.8h-2.4zM463.7 768.1h2.4v1.8h-2.4zM474.7 768.1h2.4v1.8h-2.4zM485.6 768.1h2.4v1.8h-2.4zM496.5 768.1h2.4v1.8h-2.4zM507.5 768.1h2.4v1.8h-2.4zM518.4 768.1h2.4v1.8h-2.4zM529.3 768.1h2.4v1.8h-2.4zM540.3 768.1h2.4v1.8h-2.4zM551.2 768.1h2.4v1.8h-2.4zM562.1 768.1h2.4v1.8h-2.4zM573.1 768.1h2.4v1.8h-2.4zM584.0 768.1h2.4v1.8h-2.4zM594.9 768.1h2.4v1.8h-2.4zM605.8 768.1h2.4v1.8h-2.4zM616.8 768.1h2.4v1.8h-2.4zM627.7 768.1h2.4v1.8h-2.4zM638.6 768.1h2.4v1.8h-2.4zM649.6 768.1h2.4v1.8h-2.4zM660.5 768.1h2.4v1.8h-2.4zM671.4 768.1h2.4v1.8h-2.4zM682.4 768.1h2.4v1.8h-2.4zM693.3 768.1h2.4v1.8h-2.4zM704.2 768.1h2.4v1.8h-2.4zM715.2 768.1h2.4v1.8h-2.4zM726.1 768.1h2.4v1.8h-2.4zM737.0 768.1h2.4v1.8h-2.4zM748.0 768.1h2.4v1.8h-2.4zM758.9 768.1h2.4v1.8h-2.4zM769.8 768.1h2.4v1.8h-2.4zM780.8 768.1h2.4v1.8h-2.4zM791.7 768.1h2.4v1.8h-2.4zM802.6 768.1h2.4v1.8h-2.4zM813.6 768.1h2.4v1.8h-2.4zM824.5 768.1h2.4v1.8h-2.4zM835.4 768.1h2.4v1.8h-2.4zM846.4 768.1h2.4v1.8h-2.4zM857.3 768.1h2.4v1.8h-2.4zM868.2 768.1h2.4v1.8h-2.4zM879.2 768.1h2.4v1.8h-2.4zM890.1 768.1h2.4v1.8h-2.4zM901.0 768.1h2.4v1.8h-2.4zM912.0 768.1h2.4v1.8h-2.4zM922.9 768.1h2.4v1.8h-2.4zM933.8 768.1h2.4v1.8h-2.4zM944.8 768.1h2.4v1.8h-2.4zM955.7 768.1h2.4v1.8h-2.4zM966.6 768.1h2.4v1.8h-2.4zM977.6 768.1h2.4v1.8h-2.4zM988.5 768.1h2.4v1.8h-2.4zM999.4 768.1h2.4v1.8h-2.4zM1010.4 768.1h2.4v1.8h-2.4zM1021.3 768.1h2.4v1.8h-2.4zM1032.2 768.1h2.4v1.8h-2.4zM1043.2 768.1h2.4v1.8h-2.4zM1054.1 768.1h2.4v1.8h-2.4zM1065.0 768.1h2.4v1.8h-2.4zM1076.0 768.1h2.4v1.8h-2.4zM1086.9 768.1h2.4v1.8h-2.4zM1097.8 768.1h2.4v1.8h-2.4zM1108.8 768.1h2.4v1.8h-2.4zM1119.7 768.1h2.4v1.8h-2.4zM1130.6 768.1h2.4v1.8h-2.4zM1141.6 768.1h2.4v1.8h-2.4zM1152.5 768.1h2.4v1.8h-2.4zM1163.4 768.1h2.4v1.8h-2.4zM1174.4 768.1h2.4v1.8h-2.4zM1185.3 768.1h2.4v1.8h-2.4zM1196.2 768.1h2.4v1.8h-2.4zM1207.2 768.1h2.4v1.8h-2.4zM1218.1 768.1h2.4v1.8h-2.4zM1229.0 768.1h2.4v1.8h-2.4zM1240.0 768.1h2.4v1.8h-2.4zM1250.9 768.1h2.4v1.8h-2.4zM1261.8 768.1h2.4v1.8h-2.4zM1272.8 768.1h2.4v1.8h-2.4zM1283.7 768.1h2.4v1.8h-2.4zM1294.6 768.1h2.4v1.8h-2.4zM1305.6 768.1h2.4v1.8h-2.4zM1316.5 768.1h2.4v1.8h-2.4zM1327.4 768.1h2.4v1.8h-2.4zM1338.4 768.1h2.4v1.8h-2.4zM1349.3 768.1h2.4v1.8h-2.4zM1360.2 768.1h2.4v1.8h-2.4zM1371.2 768.1h2.4v1.8h-2.4zM1382.1 768.1h2.4v1.8h-2.4zM1393.0 768.1h2.4v1.8h-2.4zM1404.0 768.1h2.4v1.8h-2.4zM1414.9 768.1h2.4v1.8h-2.4zM1425.8 768.1h2.4v1.8h-2.4zM1436.8 768.1h2.4v1.8h-2.4zM1447.7 768.1h2.4v1.8h-2.4zM1458.6 768.1h2.4v1.8h-2.4zM1469.6 768.1h2.4v1.8h-2.4zM1480.5 768.1h2.4v1.8h-2.4zM1491.4 768.1h2.4v1.8h-2.4zM1502.4 768.1h2.4v1.8h-2.4zM152.5 30.8h1.8v2.4h-1.8zM152.5 41.7h1.8v2.4h-1.8zM152.5 52.7h1.8v2.4h-1.8zM152.5 63.6h1.8v2.4h-1.8zM152.5 74.5h1.8v2.4h-1.8zM152.5 85.5h1.8v2.4h-1.8zM152.5 96.4h1.8v2.4h-1.8zM152.5 107.3h1.8v2.4h-1.8zM152.5 118.3h1.8v2.4h-1.8zM152.5 129.2h1.8v2.4h-1.8zM152.5 140.1h1.8v2.4h-1.8zM152.5 151.1h1.8v2.4h-1.8zM152.5 162.0h1.8v2.4h-1.8zM152.5 172.9h1.8v2.4h-1.8zM152.5 183.9h1.8v2.4h-1.8zM152.5 194.8h1.8v2.4h-1.8zM152.5 205.7h1.8v2.4h-1.8zM152.5 216.7h1.8v2.4h-1.8zM152.5 227.6h1.8v2.4h-1.8zM152.5 238.5h1.8v2.4h-1.8zM152.5 249.5h1.8v2.4h-1.8zM152.5 260.4h1.8v2.4h-1.8zM152.5 271.3h1.8v2.4h-1.8zM152.5 282.3h1.8v2.4h-1.8zM152.5 293.2h1.8v2.4h-1.8zM152.5 304.1h1.8v2.4h-1.8zM152.5 315.1h1.8v2.4h-1.8zM152.5 326.0h1.8v2.4h-1.8zM152.5 336.9h1.8v2.4h-1.8zM152.5 347.9h1.8v2.4h-1.8zM152.5 358.8h1.8v2.4h-1.8zM152.5 369.7h1.8v2.4h-1.8zM152.5 380.7h1.8v2.4h-1.8zM152.5 391.6h1.8v2.4h-1.8zM152.5 402.5h1.8v2.4h-1.8zM152.5 413.5h1.8v2.4h-1.8zM152.5 424.4h1.8v2.4h-1.8zM152.5 435.3h1.8v2.4h-1.8zM152.5 446.3h1.8v2.4h-1.8zM152.5 457.2h1.8v2.4h-1.8zM152.5 468.1h1.8v2.4h-1.8zM152.5 479.1h1.8v2.4h-1.8zM152.5 490.0h1.8v2.4h-1.8zM152.5 500.9h1.8v2.4h-1.8zM152.5 511.9h1.8v2.4h-1.8zM152.5 522.8h1.8v2.4h-1.8zM152.5 533.7h1.8v2.4h-1.8zM152.5 544.7h1.8v2.4h-1.8zM152.5 555.6h1.8v2.4h-1.8zM152.5 566.5h1.8v2.4h-1.8zM152.5 577.4h1.8v2.4h-1.8zM152.5 588.4h1.8v2.4h-1.8zM152.5 599.3h1.8v2.4h-1.8zM152.5 610.2h1.8v2.4h-1.8zM152.5 621.2h1.8v2.4h-1.8zM152.5 632.1h1.8v2.4h-1.8zM152.5 643.0h1.8v2.4h-1.8zM152.5 654.0h1.8v2.4h-1.8zM152.5 664.9h1.8v2.4h-1.8zM152.5 675.8h1.8v2.4h-1.8zM152.5 686.8h1.8v2.4h-1.8zM152.5 697.7h1.8v2.4h-1.8zM152.5 708.6h1.8v2.4h-1.8zM152.5 719.6h1.8v2.4h-1.8zM152.5 730.5h1.8v2.4h-1.8zM152.5 741.4h1.8v2.4h-1.8zM152.5 752.4h1.8v2.4h-1.8zM152.5 763.3h1.8v2.4h-1.8zM152.5 774.2h1.8v2.4h-1.8zM152.5 785.2h1.8v2.4h-1.8zM152.5 796.1h1.8v2.4h-1.8zM152.5 807.0h1.8v2.4h-1.8zM152.5 818.0h1.8v2.4h-1.8zM152.5 828.9h1.8v2.4h-1.8zM152.5 839.8h1.8v2.4h-1.8zM341.8 30.8h1.8v2.4h-1.8zM341.8 41.7h1.8v2.4h-1.8zM341.8 52.7h1.8v2.4h-1.8zM341.8 63.6h1.8v2.4h-1.8zM341.8 74.5h1.8v2.4h-1.8zM341.8 85.5h1.8v2.4h-1.8zM341.8 96.4h1.8v2.4h-1.8zM341.8 107.3h1.8v2.4h-1.8zM341.8 118.3h1.8v2.4h-1.8zM341.8 129.2h1.8v2.4h-1.8zM341.8 140.1h1.8v2.4h-1.8zM341.8 151.1h1.8v2.4h-1.8zM341.8 162.0h1.8v2.4h-1.8zM341.8 172.9h1.8v2.4h-1.8zM341.8 183.9h1.8v2.4h-1.8zM341.8 194.8h1.8v2.4h-1.8zM341.8 205.7h1.8v2.4h-1.8zM341.8 216.7h1.8v2.4h-1.8zM341.8 227.6h1.8v2.4h-1.8zM341.8 238.5h1.8v2.4h-1.8zM341.8 249.5h1.8v2.4h-1.8zM341.8 260.4h1.8v2.4h-1.8zM341.8 271.3h1.8v2.4h-1.8zM341.8 282.3h1.8v2.4h-1.8zM341.8 293.2h1.8v2.4h-1.8zM341.8 304.1h1.8v2.4h-1.8zM341.8 315.1h1.8v2.4h-1.8zM341.8 326.0h1.8v2.4h-1.8zM341.8 336.9h1.8v2.4h-1.8zM341.8 347.9h1.8v2.4h-1.8zM341.8 358.8h1.8v2.4h-1.8zM341.8 369.7h1.8v2.4h-1.8zM341.8 380.7h1.8v2.4h-1.8zM341.8 391.6h1.8v2.4h-1.8zM341.8 402.5h1.8v2.4h-1.8zM341.8 413.5h1.8v2.4h-1.8zM341.8 424.4h1.8v2.4h-1.8zM341.8 435.3h1.8v2.4h-1.8zM341.8 446.3h1.8v2.4h-1.8zM341.8 457.2h1.8v2.4h-1.8zM341.8 468.1h1.8v2.4h-1.8zM341.8 479.1h1.8v2.4h-1.8zM341.8 490.0h1.8v2.4h-1.8zM341.8 500.9h1.8v2.4h-1.8zM341.8 511.9h1.8v2.4h-1.8zM341.8 522.8h1.8v2.4h-1.8zM341.8 533.7h1.8v2.4h-1.8zM341.8 544.7h1.8v2.4h-1.8zM341.8 555.6h1.8v2.4h-1.8zM341.8 566.5h1.8v2.4h-1.8zM341.8 577.4h1.8v2.4h-1.8zM341.8 588.4h1.8v2.4h-1.8zM341.8 599.3h1.8v2.4h-1.8zM341.8 610.2h1.8v2.4h-1.8zM341.8 621.2h1.8v2.4h-1.8zM341.8 632.1h1.8v2.4h-1.8zM341.8 643.0h1.8v2.4h-1.8zM341.8 654.0h1.8v2.4h-1.8zM341.8 664.9h1.8v2.4h-1.8zM341.8 675.8h1.8v2.4h-1.8zM341.8 686.8h1.8v2.4h-1.8zM341.8 697.7h1.8v2.4h-1.8zM341.8 708.6h1.8v2.4h-1.8zM341.8 719.6h1.8v2.4h-1.8zM341.8 730.5h1.8v2.4h-1.8zM341.8 741.4h1.8v2.4h-1.8zM341.8 752.4h1.8v2.4h-1.8zM341.8 763.3h1.8v2.4h-1.8zM341.8 774.2h1.8v2.4h-1.8zM341.8 785.2h1.8v2.4h-1.8zM341.8 796.1h1.8v2.4h-1.8zM341.8 807.0h1.8v2.4h-1.8zM341.8 818.0h1.8v2.4h-1.8zM341.8 828.9h1.8v2.4h-1.8zM341.8 839.8h1.8v2.4h-1.8zM531.1 30.8h1.8v2.4h-1.8zM531.1 41.7h1.8v2.4h-1.8zM531.1 52.7h1.8v2.4h-1.8zM531.1 63.6h1.8v2.4h-1.8zM531.1 74.5h1.8v2.4h-1.8zM531.1 85.5h1.8v2.4h-1.8zM531.1 96.4h1.8v2.4h-1.8zM531.1 107.3h1.8v2.4h-1.8zM531.1 118.3h1.8v2.4h-1.8zM531.1 129.2h1.8v2.4h-1.8zM531.1 140.1h1.8v2.4h-1.8zM531.1 151.1h1.8v2.4h-1.8zM531.1 162.0h1.8v2.4h-1.8zM531.1 172.9h1.8v2.4h-1.8zM531.1 183.9h1.8v2.4h-1.8zM531.1 194.8h1.8v2.4h-1.8zM531.1 205.7h1.8v2.4h-1.8zM531.1 216.7h1.8v2.4h-1.8zM531.1 227.6h1.8v2.4h-1.8zM531.1 238.5h1.8v2.4h-1.8zM531.1 249.5h1.8v2.4h-1.8zM531.1 260.4h1.8v2.4h-1.8zM531.1 271.3h1.8v2.4h-1.8zM531.1 282.3h1.8v2.4h-1.8zM531.1 293.2h1.8v2.4h-1.8zM531.1 304.1h1.8v2.4h-1.8zM531.1 315.1h1.8v2.4h-1.8zM531.1 326.0h1.8v2.4h-1.8zM531.1 336.9h1.8v2.4h-1.8zM531.1 347.9h1.8v2.4h-1.8zM531.1 358.8h1.8v2.4h-1.8zM531.1 369.7h1.8v2.4h-1.8zM531.1 380.7h1.8v2.4h-1.8zM531.1 391.6h1.8v2.4h-1.8zM531.1 402.5h1.8v2.4h-1.8zM531.1 413.5h1.8v2.4h-1.8zM531.1 424.4h1.8v2.4h-1.8zM531.1 435.3h1.8v2.4h-1.8zM531.1 446.3h1.8v2.4h-1.8zM531.1 457.2h1.8v2.4h-1.8zM531.1 468.1h1.8v2.4h-1.8zM531.1 479.1h1.8v2.4h-1.8zM531.1 490.0h1.8v2.4h-1.8zM531.1 500.9h1.8v2.4h-1.8zM531.1 511.9h1.8v2.4h-1.8zM531.1 522.8h1.8v2.4h-1.8zM531.1 533.7h1.8v2.4h-1.8zM531.1 544.7h1.8v2.4h-1.8zM531.1 555.6h1.8v2.4h-1.8zM531.1 566.5h1.8v2.4h-1.8zM531.1 577.4h1.8v2.4h-1.8zM531.1 588.4h1.8v2.4h-1.8zM531.1 599.3h1.8v2.4h-1.8zM531.1 610.2h1.8v2.4h-1.8zM531.1 621.2h1.8v2.4h-1.8zM531.1 632.1h1.8v2.4h-1.8zM531.1 643.0h1.8v2.4h-1.8zM531.1 654.0h1.8v2.4h-1.8zM531.1 664.9h1.8v2.4h-1.8zM531.1 675.8h1.8v2.4h-1.8zM531.1 686.8h1.8v2.4h-1.8zM531.1 697.7h1.8v2.4h-1.8zM531.1 708.6h1.8v2.4h-1.8zM531.1 719.6h1.8v2.4h-1.8zM531.1 730.5h1.8v2.4h-1.8zM531.1 741.4h1.8v2.4h-1.8zM531.1 752.4h1.8v2.4h-1.8zM531.1 763.3h1.8v2.4h-1.8zM531.1 774.2h1.8v2.4h-1.8zM531.1 785.2h1.8v2.4h-1.8zM531.1 796.1h1.8v2.4h-1.8zM531.1 807.0h1.8v2.4h-1.8zM531.1 818.0h1.8v2.4h-1.8zM531.1 828.9h1.8v2.4h-1.8zM531.1 839.8h1.8v2.4h-1.8zM720.4 30.8h1.8v2.4h-1.8zM720.4 41.7h1.8v2.4h-1.8zM720.4 52.7h1.8v2.4h-1.8zM720.4 63.6h1.8v2.4h-1.8zM720.4 74.5h1.8v2.4h-1.8zM720.4 85.5h1.8v2.4h-1.8zM720.4 96.4h1.8v2.4h-1.8zM720.4 107.3h1.8v2.4h-1.8zM720.4 118.3h1.8v2.4h-1.8zM720.4 129.2h1.8v2.4h-1.8zM720.4 140.1h1.8v2.4h-1.8zM720.4 151.1h1.8v2.4h-1.8zM720.4 162.0h1.8v2.4h-1.8zM720.4 172.9h1.8v2.4h-1.8zM720.4 183.9h1.8v2.4h-1.8zM720.4 194.8h1.8v2.4h-1.8zM720.4 205.7h1.8v2.4h-1.8zM720.4 216.7h1.8v2.4h-1.8zM720.4 227.6h1.8v2.4h-1.8zM720.4 238.5h1.8v2.4h-1.8zM720.4 249.5h1.8v2.4h-1.8zM720.4 260.4h1.8v2.4h-1.8zM720.4 271.3h1.8v2.4h-1.8zM720.4 282.3h1.8v2.4h-1.8zM720.4 293.2h1.8v2.4h-1.8zM720.4 304.1h1.8v2.4h-1.8zM720.4 315.1h1.8v2.4h-1.8zM720.4 326.0h1.8v2.4h-1.8zM720.4 336.9h1.8v2.4h-1.8zM720.4 347.9h1.8v2.4h-1.8zM720.4 358.8h1.8v2.4h-1.8zM720.4 369.7h1.8v2.4h-1.8zM720.4 380.7h1.8v2.4h-1.8zM720.4 391.6h1.8v2.4h-1.8zM720.4 402.5h1.8v2.4h-1.8zM720.4 413.5h1.8v2.4h-1.8zM720.4 424.4h1.8v2.4h-1.8zM720.4 435.3h1.8v2.4h-1.8zM720.4 446.3h1.8v2.4h-1.8zM720.4 457.2h1.8v2.4h-1.8zM720.4 468.1h1.8v2.4h-1.8zM720.4 479.1h1.8v2.4h-1.8zM720.4 490.0h1.8v2.4h-1.8zM720.4 500.9h1.8v2.4h-1.8zM720.4 511.9h1.8v2.4h-1.8zM720.4 522.8h1.8v2.4h-1.8zM720.4 533.7h1.8v2.4h-1.8zM720.4 544.7h1.8v2.4h-1.8zM720.4 555.6h1.8v2.4h-1.8zM720.4 566.5h1.8v2.4h-1.8zM720.4 577.4h1.8v2.4h-1.8zM720.4 588.4h1.8v2.4h-1.8zM720.4 599.3h1.8v2.4h-1.8zM720.4 610.2h1.8v2.4h-1.8zM720.4 621.2h1.8v2.4h-1.8zM720.4 632.1h1.8v2.4h-1.8zM720.4 643.0h1.8v2.4h-1.8zM720.4 654.0h1.8v2.4h-1.8zM720.4 664.9h1.8v2.4h-1.8zM720.4 675.8h1.8v2.4h-1.8zM720.4 686.8h1.8v2.4h-1.8zM720.4 697.7h1.8v2.4h-1.8zM720.4 708.6h1.8v2.4h-1.8zM720.4 719.6h1.8v2.4h-1.8zM720.4 730.5h1.8v2.4h-1.8zM720.4 741.4h1.8v2.4h-1.8zM720.4 752.4h1.8v2.4h-1.8zM720.4 763.3h1.8v2.4h-1.8zM720.4 774.2h1.8v2.4h-1.8zM720.4 785.2h1.8v2.4h-1.8zM720.4 796.1h1.8v2.4h-1.8zM720.4 807.0h1.8v2.4h-1.8zM720.4 818.0h1.8v2.4h-1.8zM720.4 828.9h1.8v2.4h-1.8zM720.4 839.8h1.8v2.4h-1.8zM909.7 30.8h1.8v2.4h-1.8zM909.7 41.7h1.8v2.4h-1.8zM909.7 52.7h1.8v2.4h-1.8zM909.7 63.6h1.8v2.4h-1.8zM909.7 74.5h1.8v2.4h-1.8zM909.7 85.5h1.8v2.4h-1.8zM909.7 96.4h1.8v2.4h-1.8zM909.7 107.3h1.8v2.4h-1.8zM909.7 118.3h1.8v2.4h-1.8zM909.7 129.2h1.8v2.4h-1.8zM909.7 140.1h1.8v2.4h-1.8zM909.7 151.1h1.8v2.4h-1.8zM909.7 162.0h1.8v2.4h-1.8zM909.7 172.9h1.8v2.4h-1.8zM909.7 183.9h1.8v2.4h-1.8zM909.7 194.8h1.8v2.4h-1.8zM909.7 205.7h1.8v2.4h-1.8zM909.7 216.7h1.8v2.4h-1.8zM909.7 227.6h1.8v2.4h-1.8zM909.7 238.5h1.8v2.4h-1.8zM909.7 249.5h1.8v2.4h-1.8zM909.7 260.4h1.8v2.4h-1.8zM909.7 271.3h1.8v2.4h-1.8zM909.7 282.3h1.8v2.4h-1.8zM909.7 293.2h1.8v2.4h-1.8zM909.7 304.1h1.8v2.4h-1.8zM909.7 315.1h1.8v2.4h-1.8zM909.7 326.0h1.8v2.4h-1.8zM909.7 336.9h1.8v2.4h-1.8zM909.7 347.9h1.8v2.4h-1.8zM909.7 358.8h1.8v2.4h-1.8zM909.7 369.7h1.8v2.4h-1.8zM909.7 380.7h1.8v2.4h-1.8zM909.7 391.6h1.8v2.4h-1.8zM909.7 402.5h1.8v2.4h-1.8zM909.7 413.5h1.8v2.4h-1.8zM909.7 424.4h1.8v2.4h-1.8zM909.7 435.3h1.8v2.4h-1.8zM909.7 446.3h1.8v2.4h-1.8zM909.7 457.2h1.8v2.4h-1.8zM909.7 468.1h1.8v2.4h-1.8zM909.7 479.1h1.8v2.4h-1.8zM909.7 490.0h1.8v2.4h-1.8zM909.7 500.9h1.8v2.4h-1.8zM909.7 511.9h1.8v2.4h-1.8zM909.7 522.8h1.8v2.4h-1.8zM909.7 533.7h1.8v2.4h-1.8zM909.7 544.7h1.8v2.4h-1.8zM909.7 555.6h1.8v2.4h-1.8zM909.7 566.5h1.8v2.4h-1.8zM909.7 577.4h1.8v2.4h-1.8zM909.7 588.4h1.8v2.4h-1.8zM909.7 599.3h1.8v2.4h-1.8zM909.7 610.2h1.8v2.4h-1.8zM909.7 621.2h1.8v2.4h-1.8zM909.7 632.1h1.8v2.4h-1.8zM909.7 643.0h1.8v2.4h-1.8zM909.7 654.0h1.8v2.4h-1.8zM909.7 664.9h1.8v2.4h-1.8zM909.7 675.8h1.8v2.4h-1.8zM909.7 686.8h1.8v2.4h-1.8zM909.7 697.7h1.8v2.4h-1.8zM909.7 708.6h1.8v2.4h-1.8zM909.7 719.6h1.8v2.4h-1.8zM909.7 730.5h1.8v2.4h-1.8zM909.7 741.4h1.8v2.4h-1.8zM909.7 752.4h1.8v2.4h-1.8zM909.7 763.3h1.8v2.4h-1.8zM909.7 774.2h1.8v2.4h-1.8zM909.7 785.2h1.8v2.4h-1.8zM909.7 796.1h1.8v2.4h-1.8zM909.7 807.0h1.8v2.4h-1.8zM909.7 818.0h1.8v2.4h-1.8zM909.7 828.9h1.8v2.4h-1.8zM909.7 839.8h1.8v2.4h-1.8zM1099.0 30.8h1.8v2.4h-1.8zM1099.0 41.7h1.8v2.4h-1.8zM1099.0 52.7h1.8v2.4h-1.8zM1099.0 63.6h1.8v2.4h-1.8zM1099.0 74.5h1.8v2.4h-1.8zM1099.0 85.5h1.8v2.4h-1.8zM1099.0 96.4h1.8v2.4h-1.8zM1099.0 107.3h1.8v2.4h-1.8zM1099.0 118.3h1.8v2.4h-1.8zM1099.0 129.2h1.8v2.4h-1.8zM1099.0 140.1h1.8v2.4h-1.8zM1099.0 151.1h1.8v2.4h-1.8zM1099.0 162.0h1.8v2.4h-1.8zM1099.0 172.9h1.8v2.4h-1.8zM1099.0 183.9h1.8v2.4h-1.8zM1099.0 194.8h1.8v2.4h-1.8zM1099.0 205.7h1.8v2.4h-1.8zM1099.0 216.7h1.8v2.4h-1.8zM1099.0 227.6h1.8v2.4h-1.8zM1099.0 238.5h1.8v2.4h-1.8zM1099.0 249.5h1.8v2.4h-1.8zM1099.0 260.4h1.8v2.4h-1.8zM1099.0 271.3h1.8v2.4h-1.8zM1099.0 282.3h1.8v2.4h-1.8zM1099.0 293.2h1.8v2.4h-1.8zM1099.0 304.1h1.8v2.4h-1.8zM1099.0 315.1h1.8v2.4h-1.8zM1099.0 326.0h1.8v2.4h-1.8zM1099.0 336.9h1.8v2.4h-1.8zM1099.0 347.9h1.8v2.4h-1.8zM1099.0 358.8h1.8v2.4h-1.8zM1099.0 369.7h1.8v2.4h-1.8zM1099.0 380.7h1.8v2.4h-1.8zM1099.0 391.6h1.8v2.4h-1.8zM1099.0 402.5h1.8v2.4h-1.8zM1099.0 413.5h1.8v2.4h-1.8zM1099.0 424.4h1.8v2.4h-1.8zM1099.0 435.3h1.8v2.4h-1.8zM1099.0 446.3h1.8v2.4h-1.8zM1099.0 457.2h1.8v2.4h-1.8zM1099.0 468.1h1.8v2.4h-1.8zM1099.0 479.1h1.8v2.4h-1.8zM1099.0 490.0h1.8v2.4h-1.8zM1099.0 500.9h1.8v2.4h-1.8zM1099.0 511.9h1.8v2.4h-1.8zM1099.0 522.8h1.8v2.4h-1.8zM1099.0 533.7h1.8v2.4h-1.8zM1099.0 544.7h1.8v2.4h-1.8zM1099.0 555.6h1.8v2.4h-1.8zM1099.0 566.5h1.8v2.4h-1.8zM1099.0 577.4h1.8v2.4h-1.8zM1099.0 588.4h1.8v2.4h-1.8zM1099.0 599.3h1.8v2.4h-1.8zM1099.0 610.2h1.8v2.4h-1.8zM1099.0 621.2h1.8v2.4h-1.8zM1099.0 632.1h1.8v2.4h-1.8zM1099.0 643.0h1.8v2.4h-1.8zM1099.0 654.0h1.8v2.4h-1.8zM1099.0 664.9h1.8v2.4h-1.8zM1099.0 675.8h1.8v2.4h-1.8zM1099.0 686.8h1.8v2.4h-1.8zM1099.0 697.7h1.8v2.4h-1.8zM1099.0 708.6h1.8v2.4h-1.8zM1099.0 719.6h1.8v2.4h-1.8zM1099.0 730.5h1.8v2.4h-1.8zM1099.0 741.4h1.8v2.4h-1.8zM1099.0 752.4h1.8v2.4h-1.8zM1099.0 763.3h1.8v2.4h-1.8zM1099.0 774.2h1.8v2.4h-1.8zM1099.0 785.2h1.8v2.4h-1.8zM1099.0 796.1h1.8v2.4h-1.8zM1099.0 807.0h1.8v2.4h-1.8zM1099.0 818.0h1.8v2.4h-1.8zM1099.0 828.9h1.8v2.4h-1.8zM1099.0 839.8h1.8v2.4h-1.8zM1288.3 30.8h1.8v2.4h-1.8zM1288.3 41.7h1.8v2.4h-1.8zM1288.3 52.7h1.8v2.4h-1.8zM1288.3 63.6h1.8v2.4h-1.8zM1288.3 74.5h1.8v2.4h-1.8zM1288.3 85.5h1.8v2.4h-1.8zM1288.3 96.4h1.8v2.4h-1.8zM1288.3 107.3h1.8v2.4h-1.8zM1288.3 118.3h1.8v2.4h-1.8zM1288.3 129.2h1.8v2.4h-1.8zM1288.3 140.1h1.8v2.4h-1.8zM1288.3 151.1h1.8v2.4h-1.8zM1288.3 162.0h1.8v2.4h-1.8zM1288.3 172.9h1.8v2.4h-1.8zM1288.3 183.9h1.8v2.4h-1.8zM1288.3 194.8h1.8v2.4h-1.8zM1288.3 205.7h1.8v2.4h-1.8zM1288.3 216.7h1.8v2.4h-1.8zM1288.3 227.6h1.8v2.4h-1.8zM1288.3 238.5h1.8v2.4h-1.8zM1288.3 249.5h1.8v2.4h-1.8zM1288.3 260.4h1.8v2.4h-1.8zM1288.3 271.3h1.8v2.4h-1.8zM1288.3 282.3h1.8v2.4h-1.8zM1288.3 293.2h1.8v2.4h-1.8zM1288.3 304.1h1.8v2.4h-1.8zM1288.3 315.1h1.8v2.4h-1.8zM1288.3 326.0h1.8v2.4h-1.8zM1288.3 336.9h1.8v2.4h-1.8zM1288.3 347.9h1.8v2.4h-1.8zM1288.3 358.8h1.8v2.4h-1.8zM1288.3 369.7h1.8v2.4h-1.8zM1288.3 380.7h1.8v2.4h-1.8zM1288.3 391.6h1.8v2.4h-1.8zM1288.3 402.5h1.8v2.4h-1.8zM1288.3 413.5h1.8v2.4h-1.8zM1288.3 424.4h1.8v2.4h-1.8zM1288.3 435.3h1.8v2.4h-1.8zM1288.3 446.3h1.8v2.4h-1.8zM1288.3 457.2h1.8v2.4h-1.8zM1288.3 468.1h1.8v2.4h-1.8zM1288.3 479.1h1.8v2.4h-1.8zM1288.3 490.0h1.8v2.4h-1.8zM1288.3 500.9h1.8v2.4h-1.8zM1288.3 511.9h1.8v2.4h-1.8zM1288.3 522.8h1.8v2.4h-1.8zM1288.3 533.7h1.8v2.4h-1.8zM1288.3 544.7h1.8v2.4h-1.8zM1288.3 555.6h1.8v2.4h-1.8zM1288.3 566.5h1.8v2.4h-1.8zM1288.3 577.4h1.8v2.4h-1.8zM1288.3 588.4h1.8v2.4h-1.8zM1288.3 599.3h1.8v2.4h-1.8zM1288.3 610.2h1.8v2.4h-1.8zM1288.3 621.2h1.8v2.4h-1.8zM1288.3 632.1h1.8v2.4h-1.8zM1288.3 643.0h1.8v2.4h-1.8zM1288.3 654.0h1.8v2.4h-1.8zM1288.3 664.9h1.8v2.4h-1.8zM1288.3 675.8h1.8v2.4h-1.8zM1288.3 686.8h1.8v2.4h-1.8zM1288.3 697.7h1.8v2.4h-1.8zM1288.3 708.6h1.8v2.4h-1.8zM1288.3 719.6h1.8v2.4h-1.8zM1288.3 730.5h1.8v2.4h-1.8zM1288.3 741.4h1.8v2.4h-1.8zM1288.3 752.4h1.8v2.4h-1.8zM1288.3 763.3h1.8v2.4h-1.8zM1288.3 774.2h1.8v2.4h-1.8zM1288.3 785.2h1.8v2.4h-1.8zM1288.3 796.1h1.8v2.4h-1.8zM1288.3 807.0h1.8v2.4h-1.8zM1288.3 818.0h1.8v2.4h-1.8zM1288.3 828.9h1.8v2.4h-1.8zM1288.3 839.8h1.8v2.4h-1.8zM1477.6 30.8h1.8v2.4h-1.8zM1477.6 41.7h1.8v2.4h-1.8zM1477.6 52.7h1.8v2.4h-1.8zM1477.6 63.6h1.8v2.4h-1.8zM1477.6 74.5h1.8v2.4h-1.8zM1477.6 85.5h1.8v2.4h-1.8zM1477.6 96.4h1.8v2.4h-1.8zM1477.6 107.3h1.8v2.4h-1.8zM1477.6 118.3h1.8v2.4h-1.8zM1477.6 129.2h1.8v2.4h-1.8zM1477.6 140.1h1.8v2.4h-1.8zM1477.6 151.1h1.8v2.4h-1.8zM1477.6 162.0h1.8v2.4h-1.8zM1477.6 172.9h1.8v2.4h-1.8zM1477.6 183.9h1.8v2.4h-1.8zM1477.6 194.8h1.8v2.4h-1.8zM1477.6 205.7h1.8v2.4h-1.8zM1477.6 216.7h1.8v2.4h-1.8zM1477.6 227.6h1.8v2.4h-1.8zM1477.6 238.5h1.8v2.4h-1.8zM1477.6 249.5h1.8v2.4h-1.8zM1477.6 260.4h1.8v2.4h-1.8zM1477.6 271.3h1.8v2.4h-1.8zM1477.6 282.3h1.8v2.4h-1.8zM1477.6 293.2h1.8v2.4h-1.8zM1477.6 304.1h1.8v2.4h-1.8zM1477.6 315.1h1.8v2.4h-1.8zM1477.6 326.0h1.8v2.4h-1.8zM1477.6 336.9h1.8v2.4h-1.8zM1477.6 347.9h1.8v2.4h-1.8zM1477.6 358.8h1.8v2.4h-1.8zM1477.6 369.7h1.8v2.4h-1.8zM1477.6 380.7h1.8v2.4h-1.8zM1477.6 391.6h1.8v2.4h-1.8zM1477.6 402.5h1.8v2.4h-1.8zM1477.6 413.5h1.8v2.4h-1.8zM1477.6 424.4h1.8v2.4h-1.8zM1477.6 435.3h1.8v2.4h-1.8zM1477.6 446.3h1.8v2.4h-1.8zM1477.6 457.2h1.8v2.4h-1.8zM1477.6 468.1h1.8v2.4h-1.8zM1477.6 479.1h1.8v2.4h-1.8zM1477.6 490.0h1.8v2.4h-1.8zM1477.6 500.9h1.8v2.4h-1.8zM1477.6 511.9h1.8v2.4h-1.8zM1477.6 522.8h1.8v2.4h-1.8zM1477.6 533.7h1.8v2.4h-1.8zM1477.6 544.7h1.8v2.4h-1.8zM1477.6 555.6h1.8v2.4h-1.8zM1477.6 566.5h1.8v2.4h-1.8zM1477.6 577.4h1.8v2.4h-1.8zM1477.6 588.4h1.8v2.4h-1.8zM1477.6 599.3h1.8v2.4h-1.8zM1477.6 610.2h1.8v2.4h-1.8zM1477.6 621.2h1.8v2.4h-1.8zM1477.6 632.1h1.8v2.4h-1.8zM1477.6 643.0h1.8v2.4h-1.8zM1477.6 654.0h1.8v2.4h-1.8zM1477.6 664.9h1.8v2.4h-1.8zM1477.6 675.8h1.8v2.4h-1.8zM1477.6 686.8h1.8v2.4h-1.8zM1477.6 697.7h1.8v2.4h-1.8zM1477.6 708.6h1.8v2.4h-1.8zM1477.6 719.6h1.8v2.4h-1.8zM1477.6 730.5h1.8v2.4h-1.8zM1477.6 741.4h1.8v2.4h-1.8zM1477.6 752.4h1.8v2.4h-1.8zM1477.6 763.3h1.8v2.4h-1.8zM1477.6 774.2h1.8v2.4h-1.8zM1477.6 785.2h1.8v2.4h-1.8zM1477.6 796.1h1.8v2.4h-1.8zM1477.6 807.0h1.8v2.4h-1.8zM1477.6 818.0h1.8v2.4h-1.8zM1477.6 828.9h1.8v2.4h-1.8zM1477.6 839.8h1.8v2.4h-1.8z"/>
<rect x="66.85" y="665.95" width="46.60" height="108.80" fill="#f00d0d" stroke="#cc1a1a" stroke-width="0.9"/>
<rect x="129.65" y="665.95" width="46.60" height="110.10" fill="#f00d0d" stroke="#cc1a1a" stroke-width="0.9"/>
<rect x="193.55" y="595.55" width="46.90" height="70.40" fill="#3cba32" stroke="#4fa24a" stroke-width="0.9"/>
<rect x="256.35" y="621.75" width="47.20" height="44.20" fill="#3cba32" stroke="#4fa24a" stroke-width="0.9"/>
<rect x="319.25" y="633.85" width="47.10" height="32.10" fill="#3cba32" stroke="#4fa24a" stroke-width="0.9"/>
<rect x="382.35" y="639.15" width="46.90" height="26.80" fill="#3cba32" stroke="#4fa24a" stroke-width="0.9"/>
<rect x="445.45" y="583.45" width="46.70" height="82.50" fill="#3cba32" stroke="#4fa24a" stroke-width="0.9"/>
<rect x="508.05" y="578.95" width="46.90" height="87.00" fill="#3cba32" stroke="#4fa24a" stroke-width="0.9"/>
<rect x="572.25" y="665.95" width="46.60" height="38.80" fill="#f00d0d" stroke="#cc1a1a" stroke-width="0.9"/>
<rect x="635.05" y="665.95" width="46.60" height="31.90" fill="#f00d0d" stroke="#cc1a1a" stroke-width="0.9"/>
<rect x="697.95" y="600.05" width="46.60" height="65.90" fill="#3cba32" stroke="#4fa24a" stroke-width="0.9"/>
<rect x="761.05" y="665.95" width="46.60" height="88.20" fill="#f00d0d" stroke="#cc1a1a" stroke-width="0.9"/>
<rect x="823.65" y="594.65" width="46.60" height="71.30" fill="#3cba32" stroke="#4fa24a" stroke-width="0.9"/>
<rect x="886.75" y="618.95" width="46.60" height="47.00" fill="#3cba32" stroke="#4fa24a" stroke-width="0.9"/>
<rect x="950.95" y="665.95" width="46.60" height="14.10" fill="#f00d0d" stroke="#cc1a1a" stroke-width="0.9"/>
<rect x="1013.75" y="642.45" width="46.60" height="23.50" fill="#3cba32" stroke="#4fa24a" stroke-width="0.9"/>
<rect x="1076.55" y="665.95" width="46.70" height="27.90" fill="#f00d0d" stroke="#cc1a1a" stroke-width="0.9"/>
<rect x="1139.45" y="542.65" width="46.60" height="123.30" fill="#3cba32" stroke="#4fa24a" stroke-width="0.9"/>
<rect x="1202.35" y="665.95" width="46.60" height="11.50" fill="#f00d0d" stroke="#cc1a1a" stroke-width="0.9"/>
<rect x="1264.95" y="573.75" width="46.60" height="92.20" fill="#3cba32" stroke="#4fa24a" stroke-width="0.9"/>
<rect x="1329.05" y="609.45" width="46.70" height="56.50" fill="#3cba32" stroke="#4fa24a" stroke-width="0.9"/>
<rect x="1392.15" y="587.55" width="46.70" height="78.40" fill="#3cba32" stroke="#4fa24a" stroke-width="0.9"/>
<rect x="1455.05" y="620.25" width="46.60" height="45.70" fill="#3cba32" stroke="#4fa24a" stroke-width="0.9"/>
<defs><clipPath id="pc"><rect x="59" y="31" width="1452" height="813"/></clipPath></defs>
<polyline clip-path="url(#pc)" fill="none" stroke="#2e5b8f" stroke-width="4.2" stroke-linejoin="round" stroke-linecap="round" points="26.4,-137.0 89.6,96.5 151.5,435.0 217.0,505.5 279.5,426.5 342.5,464.5 405.5,365.0 468.5,344.0 531.2,226.0 594.8,398.4 658.0,306.0 720.8,126.5 783.5,639.0 847.0,455.0 909.0,293.3 972.5,378.8 1036.5,401.0 1099.0,461.2 1162.0,365.2 1225.0,461.0 1288.0,455.3 1351.0,356.0 1414.4,240.8 1478.0,261.2"/>
<rect x="59.4" y="843.2" width="1452.6" height="2" fill="#222"/>
<path fill="#222" d="M89.5 844h1.5v4.5h-1.5zM152.7 844h1.5v4.5h-1.5zM215.8 844h1.5v4.5h-1.5zM278.9 844h1.5v4.5h-1.5zM341.9 844h1.5v4.5h-1.5zM405.1 844h1.5v4.5h-1.5zM468.2 844h1.5v4.5h-1.5zM531.2 844h1.5v4.5h-1.5zM594.4 844h1.5v4.5h-1.5zM657.4 844h1.5v4.5h-1.5zM720.5 844h1.5v4.5h-1.5zM783.6 844h1.5v4.5h-1.5zM846.8 844h1.5v4.5h-1.5zM909.9 844h1.5v4.5h-1.5zM972.9 844h1.5v4.5h-1.5zM1036.0 844h1.5v4.5h-1.5zM1099.2 844h1.5v4.5h-1.5zM1162.2 844h1.5v4.5h-1.5zM1225.3 844h1.5v4.5h-1.5zM1288.5 844h1.5v4.5h-1.5zM1351.5 844h1.5v4.5h-1.5zM1414.7 844h1.5v4.5h-1.5zM1477.8 844h1.5v4.5h-1.5z"/>
<text x="138.10" y="864.40" font-size="18.5" stroke="#2a2a2a" fill="#2a2a2a" textLength="29.38" lengthAdjust="spacingAndGlyphs">Mar</text>
<text x="327.21" y="864.40" font-size="18.5" stroke="#2a2a2a" fill="#2a2a2a" textLength="29.58" lengthAdjust="spacingAndGlyphs">Jun</text>
<text x="517.04" y="864.40" font-size="18.5" stroke="#2a2a2a" fill="#2a2a2a" textLength="29.66" lengthAdjust="spacingAndGlyphs">Sep</text>
<text x="704.56" y="864.40" font-size="18.5" stroke="#2a2a2a" fill="#2a2a2a" textLength="31.20" lengthAdjust="spacingAndGlyphs">Dec</text>
<text x="895.12" y="864.40" font-size="18.5" stroke="#2a2a2a" fill="#2a2a2a" textLength="29.06" lengthAdjust="spacingAndGlyphs">Mar</text>
<text x="1083.71" y="864.40" font-size="18.5" stroke="#2a2a2a" fill="#2a2a2a" textLength="30.21" lengthAdjust="spacingAndGlyphs">Jun</text>
<text x="1274.05" y="864.40" font-size="18.5" stroke="#2a2a2a" fill="#2a2a2a" textLength="29.45" lengthAdjust="spacingAndGlyphs">Sep</text>
<text x="1462.39" y="864.40" font-size="18.5" stroke="#2a2a2a" fill="#2a2a2a" textLength="30.67" lengthAdjust="spacingAndGlyphs">Dec</text>
<text x="370.42" y="886.00" font-size="18.5" stroke="#2a2a2a" fill="#2a2a2a" textLength="39.11" lengthAdjust="spacingAndGlyphs">2023</text>
<text x="1079.61" y="886.00" font-size="18.5" stroke="#2a2a2a" fill="#2a2a2a" textLength="39.20" lengthAdjust="spacingAndGlyphs">2024</text>
<rect x="720.7" y="868" width="1.2" height="19" fill="#6a6a6a"/>
<rect x="1477.9" y="868" width="1.2" height="19" fill="#6a6a6a"/>
<rect x="1507.5" y="31" width="9" height="813" fill="#f0fbef"/>
<rect x="1510.5" y="31" width="1.5" height="813" fill="#5b7d63"/>
<path fill="#5b7063" d="M1511 98.5h5v1.4h-5zM1511 201.6h5v1.4h-5zM1511 304.6h5v1.4h-5zM1511 407.7h5v1.4h-5zM1511 510.7h5v1.4h-5zM1511 613.7h5v1.4h-5zM1511 716.8h5v1.4h-5zM1511 819.8h5v1.4h-5z"/>
<path fill="#45a845" d="M1511 44.1L1523 47.7L1511 51.3zM1511 147.2L1523 150.8L1511 154.3zM1511 353.2L1523 356.8L1511 360.4zM1511 456.3L1523 459.9L1511 463.5zM1511 559.3L1523 562.9L1511 566.5zM1511 662.4L1523 666.0L1511 669.6zM1511 765.4L1523 769.0L1511 772.6z"/>
<text x="1523.67" y="55.11" font-size="19.5" stroke="#2a2a2a" fill="#2a2a2a" textLength="25.55" lengthAdjust="spacingAndGlyphs">6.0</text>
<text x="1523.87" y="158.15" font-size="19.5" stroke="#2a2a2a" fill="#2a2a2a" textLength="25.34" lengthAdjust="spacingAndGlyphs">5.0</text>
<text x="1523.91" y="364.23" font-size="19.5" stroke="#2a2a2a" fill="#2a2a2a" textLength="25.30" lengthAdjust="spacingAndGlyphs">3.0</text>
<text x="1523.68" y="467.27" font-size="19.5" stroke="#2a2a2a" fill="#2a2a2a" textLength="25.54" lengthAdjust="spacingAndGlyphs">2.0</text>
<text x="1523.17" y="570.31" font-size="19.5" stroke="#2a2a2a" fill="#2a2a2a" textLength="26.06" lengthAdjust="spacingAndGlyphs">1.0</text>
<text x="1523.89" y="673.35" font-size="19.5" stroke="#2a2a2a" fill="#2a2a2a" textLength="25.32" lengthAdjust="spacingAndGlyphs">0.0</text>
<text x="1524.73" y="776.99" font-size="18.5" stroke="#2a2a2a" fill="#2a2a2a" textLength="33.73" lengthAdjust="spacingAndGlyphs">-1.0</text>
<path fill="#2c66b2" d="M1519 247H1562.4V276.2H1519L1511.8 268.5V254.7Z"/>
<text x="1522.99" y="269.00" font-size="18.5" stroke="#e8f0fb" fill="#e8f0fb" textLength="25.89" lengthAdjust="spacingAndGlyphs">3.9</text>
<path fill="#3cba32" d="M1522 608.9H1562.4V631.8H1522L1514.8 620.3Z"/>
<text x="1522.30" y="627.40" font-size="18" stroke="#123012" fill="#123012" textLength="24.93" lengthAdjust="spacingAndGlyphs">0.4</text>
<rect x="863.5" y="97.9" width="613" height="84.2" rx="4" fill="#fff" stroke="#333" stroke-width="2"/>
<text x="1125.93" y="126.25" font-size="17.5" stroke="#2a2a2a" fill="#2a2a2a" textLength="36.11" lengthAdjust="spacingAndGlyphs">Last</text>
<text x="1168.45" y="126.25" font-size="17.5" stroke="#2a2a2a" fill="#2a2a2a" textLength="42.99" lengthAdjust="spacingAndGlyphs">Price</text>
<rect x="874" y="132.2" width="16.2" height="16" fill="#3cba32"/>
<rect x="874" y="154" width="16.2" height="16" fill="#2e64b0"/>
<text x="895.97" y="148.10" font-size="17.5" stroke="#2a2a2a" fill="#2a2a2a" textLength="69.59" lengthAdjust="spacingAndGlyphs">Adjusted</text>
<text x="971.51" y="148.10" font-size="17.5" stroke="#2a2a2a" fill="#2a2a2a" textLength="49.54" lengthAdjust="spacingAndGlyphs">Retail</text>
<text x="1026.96" y="148.10" font-size="17.5" stroke="#2a2a2a" fill="#2a2a2a" textLength="10.17" lengthAdjust="spacingAndGlyphs">&amp;</text>
<text x="1044.20" y="148.10" font-size="17.5" stroke="#2a2a2a" fill="#2a2a2a" textLength="38.79" lengthAdjust="spacingAndGlyphs">Food</text>
<text x="1089.78" y="148.10" font-size="17.5" stroke="#2a2a2a" fill="#2a2a2a" textLength="68.97" lengthAdjust="spacingAndGlyphs">Services</text>
<text x="1166.11" y="148.10" font-size="17.5" stroke="#2a2a2a" fill="#2a2a2a" textLength="43.26" lengthAdjust="spacingAndGlyphs">Sales</text>
<text x="1216.84" y="148.10" font-size="17.5" stroke="#2a2a2a" fill="#2a2a2a" textLength="19.44" lengthAdjust="spacingAndGlyphs">SA</text>
<text x="1242.67" y="148.10" font-size="17.5" stroke="#2a2a2a" fill="#2a2a2a" textLength="42.09" lengthAdjust="spacingAndGlyphs">Total</text>
<text x="1289.77" y="148.10" font-size="17.5" stroke="#2a2a2a" fill="#2a2a2a" textLength="63.01" lengthAdjust="spacingAndGlyphs">Monthly</text>
<g fill="none" stroke="#2a2a2a" stroke-width="1.3"><ellipse cx="1363.75" cy="136.80" rx="2.0" ry="2.6"/><ellipse cx="1367.75" cy="144.80" rx="2.2" ry="2.9"/><path d="M1361.55 142.30L1369.45 138.50"/></g>
<text x="1376.16" y="148.10" font-size="17.5" stroke="#2a2a2a" fill="#2a2a2a" textLength="58.08" lengthAdjust="spacingAndGlyphs">Change</text>
<text x="1441.78" y="148.10" font-size="17.5" stroke="#2a2a2a" fill="#2a2a2a" textLength="25.66" lengthAdjust="spacingAndGlyphs">0.4</text>
<text x="895.97" y="169.40" font-size="17.5" stroke="#2a2a2a" fill="#2a2a2a" textLength="69.59" lengthAdjust="spacingAndGlyphs">Adjusted</text>
<text x="971.51" y="169.40" font-size="17.5" stroke="#2a2a2a" fill="#2a2a2a" textLength="49.54" lengthAdjust="spacingAndGlyphs">Retail</text>
<text x="1026.96" y="169.40" font-size="17.5" stroke="#2a2a2a" fill="#2a2a2a" textLength="10.17" lengthAdjust="spacingAndGlyphs">&amp;</text>
<text x="1044.20" y="169.40" font-size="17.5" stroke="#2a2a2a" fill="#2a2a2a" textLength="38.79" lengthAdjust="spacingAndGlyphs">Food</text>
<text x="1089.78" y="169.40" font-size="17.5" stroke="#2a2a2a" fill="#2a2a2a" textLength="68.97" lengthAdjust="spacingAndGlyphs">Services</text>
<text x="1166.11" y="169.40" font-size="17.5" stroke="#2a2a2a" fill="#2a2a2a" textLength="43.26" lengthAdjust="spacingAndGlyphs">Sales</text>
<text x="1217.08" y="169.40" font-size="17.5" stroke="#2a2a2a" fill="#2a2a2a" textLength="41.68" lengthAdjust="spacingAndGlyphs">Total</text>
<text x="1265.21" y="169.40" font-size="17.5" stroke="#2a2a2a" fill="#2a2a2a" textLength="49.82" lengthAdjust="spacingAndGlyphs">Yearly</text>
<g fill="none" stroke="#2a2a2a" stroke-width="1.3"><ellipse cx="1325.60" cy="158.10" rx="2.0" ry="2.6"/><ellipse cx="1329.60" cy="166.10" rx="2.2" ry="2.9"/><path d="M1323.40 163.60L1331.30 159.80"/></g>
<text x="1338.56" y="169.40" font-size="17.5" stroke="#2a2a2a" fill="#2a2a2a" textLength="57.77" lengthAdjust="spacingAndGlyphs">Change</text>
<text x="1401.83" y="169.40" font-size="17.5" stroke="#2a2a2a" fill="#2a2a2a" textLength="19.70" lengthAdjust="spacingAndGlyphs">SA</text>
<text x="1441.79" y="169.40" font-size="17.5" stroke="#2a2a2a" fill="#2a2a2a" textLength="26.00" lengthAdjust="spacingAndGlyphs">3.9</text>
<line x1="1361.7" y1="546.7" x2="1482" y2="595" stroke="#f0141c" stroke-width="3.8"/>
<path fill="#f0141c" d="M1491.5 599.7L1477.5 601.2L1483.2 590.5Z"/>
<rect x="187.1" y="88.4" width="302.7" height="119" fill="#000"/>
<path fill="none" stroke="#4a90d0" stroke-width="12.6" stroke-linecap="butt" d="M236.4 123.4C236.4 114.5 228 110.4 218 110.4C207 110.4 199.8 116 199.8 124.5C199.8 133 210 134.5 222 137.5C231 140 236 143.5 236 149C236 154.8 229 158.6 218 158.6C208 158.6 200.6 154.5 200.6 144.7"/>
<path fill="#000" d="M204.5 115.5L229.5 115.5L230.5 123.4L207 122Z"/>
<path stroke="#000" stroke-width="2.6" fill="none" d="M198.3 106.3L206.6 119.5M235.2 106.3L227.5 118.5"/>
<circle cx="198.3" cy="106.3" r="1.9" fill="#6aaae6"/><circle cx="235.2" cy="106.3" r="1.9" fill="#6aaae6"/>
<circle cx="211.8" cy="114" r="5" fill="#1d4f8a" stroke="#173f70" stroke-width="1.6" stroke-dasharray="1.6 1.4"/><circle cx="222" cy="114" r="4.4" fill="#1d4f8a" stroke="#173f70" stroke-width="1.4" stroke-dasharray="1.5 1.3"/><circle cx="227.3" cy="120.2" r="3.2" fill="#1d4f8a"/>
<circle cx="211.8" cy="114" r="2.8" fill="#ffe0b0"/><circle cx="222" cy="114" r="2.5" fill="#ffe0b0"/><circle cx="211.8" cy="114" r="2" fill="#f59a10"/><circle cx="222" cy="114" r="1.8" fill="#f5a030"/><circle cx="227.3" cy="120.2" r="2" fill="#f0b070"/>
<g fill="#1f70b6"><rect x="247.1" y="137.9" width="6.4" height="24.6"/><rect x="264" y="149.5" width="6.4" height="13"/><rect x="280.5" y="149.5" width="6.4" height="13"/><rect x="311.6" y="139.4" width="5.8" height="23.1"/><rect x="321.6" y="139.4" width="5.8" height="23.1"/><path d="M321.6 146.5A8.2 8.2 0 0 1 329.8 138.3H335.6V143.8H330.2A2.8 2.8 0 0 0 327.4 146.6Z"/><rect x="336.6" y="130.3" width="6.2" height="32.2"/><rect x="334.8" y="138.8" width="11.5" height="4.5"/></g>
<path fill="none" stroke="#1f70b6" stroke-width="6.4" d="M250.3 150V149.55A8.45 8.45 0 0 1 267.2 149.55V151M267.2 150V149.55A8.25 8.25 0 0 1 283.7 149.55V151"/>
<circle cx="303.4" cy="150.4" r="9.6" fill="none" stroke="#1f70b6" stroke-width="5.8"/>
<text x="358.86" y="163.10" font-size="46" font-weight="bold" fill="#2b95ea" textLength="24.16" lengthAdjust="spacingAndGlyphs" stroke="#2b95ea" stroke-width="0.7">S</text>
<g fill="#2b95ea"><rect x="386" y="130.3" width="6.3" height="32.4"/><rect x="383.1" y="138.5" width="12.8" height="4.6"/><rect x="457.2" y="130" width="6.5" height="32.7"/><path d="M463.2 147.2L473.2 138.5H479.2L463.2 155.6Z"/><path d="M466.8 146.5L480.6 162.7H473.2L462.6 151.2Z"/></g>
<circle cx="410.95" cy="150.85" r="10.05" fill="none" stroke="#2b95ea" stroke-width="6.1"/>
<path fill="none" stroke="#2b95ea" stroke-width="6.1" d="M451.5 146.3A10.05 10.05 0 1 0 451.5 155.4"/>
<text x="201.03" y="190.20" font-size="16" font-weight="bold" fill="#f3a03c" textLength="43.04" lengthAdjust="spacingAndGlyphs">ĐƠN</text>
<text x="250.01" y="190.20" font-size="16" font-weight="bold" fill="#f3a03c" textLength="47.98" lengthAdjust="spacingAndGlyphs">GIẢN</text>
<text x="303.39" y="190.20" font-size="16" font-weight="bold" fill="#f3a03c" textLength="43.53" lengthAdjust="spacingAndGlyphs">HÓA</text>
<text x="352.37" y="190.20" font-size="16" font-weight="bold" fill="#f3a03c" textLength="44.25" lengthAdjust="spacingAndGlyphs">VIỆC</text>
<text x="402.53" y="190.20" font-size="16" font-weight="bold" fill="#f3a03c" textLength="40.62" lengthAdjust="spacingAndGlyphs">ĐẦU</text>
<text x="449.80" y="190.20" font-size="16" font-weight="bold" fill="#f3a03c" textLength="25.90" lengthAdjust="spacingAndGlyphs">TƯ</text>
</svg></body></html>
